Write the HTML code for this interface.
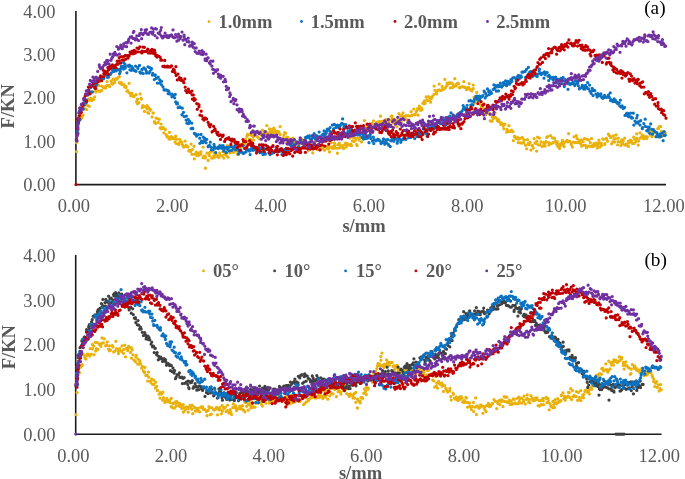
<!DOCTYPE html>
<html><head><meta charset="utf-8"><style>
html,body{margin:0;padding:0;background:#fff;}
body{width:685px;height:479px;overflow:hidden;}
svg{display:block;}
text{filter:grayscale(1);}
.t{font-family:"Liberation Serif",serif;font-size:18.5px;fill:#595959;}
.b{font-family:"Liberation Serif",serif;font-size:18.5px;font-weight:bold;fill:#595959;}
.k{font-family:"Liberation Serif",serif;font-size:19.3px;fill:#000;}
.d path{fill:none;stroke-width:3.25;stroke-linecap:round;}
</style></head><body>
<svg width="685" height="479" viewBox="0 0 685 479">
<rect width="685" height="479" fill="#fff"/>
<g class="t">
<text x="55.6" y="191.0" text-anchor="end">0.00</text>
<text x="55.6" y="147.7" text-anchor="end">1.00</text>
<text x="55.6" y="104.3" text-anchor="end">2.00</text>
<text x="55.6" y="61.0" text-anchor="end">3.00</text>
<text x="55.6" y="17.6" text-anchor="end">4.00</text>
<text x="73.9" y="212.3" text-anchor="middle">0.00</text>
<text x="172.2" y="212.3" text-anchor="middle">2.00</text>
<text x="270.6" y="212.3" text-anchor="middle">4.00</text>
<text x="368.9" y="212.3" text-anchor="middle">6.00</text>
<text x="467.3" y="212.3" text-anchor="middle">8.00</text>
<text x="565.6" y="212.3" text-anchor="middle">10.00</text>
<text x="663.9" y="212.3" text-anchor="middle">12.00</text>
<text x="55.6" y="440.8" text-anchor="end">0.00</text>
<text x="55.6" y="396.1" text-anchor="end">1.00</text>
<text x="55.6" y="351.4" text-anchor="end">2.00</text>
<text x="55.6" y="306.7" text-anchor="end">3.00</text>
<text x="55.6" y="262.0" text-anchor="end">4.00</text>
<text x="73.4" y="462.0" text-anchor="middle">0.00</text>
<text x="171.0" y="462.0" text-anchor="middle">2.00</text>
<text x="268.7" y="462.0" text-anchor="middle">4.00</text>
<text x="366.3" y="462.0" text-anchor="middle">6.00</text>
<text x="464.0" y="462.0" text-anchor="middle">8.00</text>
<text x="561.6" y="462.0" text-anchor="middle">10.00</text>
<text x="659.2" y="462.0" text-anchor="middle">12.00</text>
</g>
<g class="b">
<text x="364" y="232.2" text-anchor="middle">s/mm</text>
<text x="360.5" y="479.2" text-anchor="middle">s/mm</text>
<text transform="translate(14.3,106.3) rotate(-90)" text-anchor="middle">F/KN</text>
<text transform="translate(15.2,347.2) rotate(-90)" text-anchor="middle">F/KN</text>
<text x="218.4" y="28.4">1.0mm</text>
<text x="310.7" y="28.4">1.5mm</text>
<text x="403.9" y="28.4">2.0mm</text>
<text x="496.2" y="28.4">2.5mm</text>
<text x="212.9" y="277.2">05°</text>
<text x="284.6" y="277.2">10°</text>
<text x="355.9" y="277.2">15°</text>
<text x="426" y="277.2">20°</text>
<text x="496.5" y="277.2">25°</text>
</g>
<g class="k">
<text x="644.2" y="13.6">(a)</text>
<text x="644.4" y="265.6">(b)</text>
</g>
<g fill="none" stroke="#1c1c1c" stroke-width="1.6">
<path d="M75.9 11V184.6H666"/>
<path d="M75.7 255V434.2H661.6"/>
</g>
<g>
<circle cx="209" cy="21.7" r="1.4" fill="#EBB10B"/>
<circle cx="301.5" cy="21.5" r="1.4" fill="#0A72C1"/>
<circle cx="395" cy="21.5" r="1.4" fill="#C00000"/>
<circle cx="487.5" cy="21.5" r="1.4" fill="#7030A0"/>
<circle cx="203.5" cy="270.9" r="1.4" fill="#EBB10B"/>
<circle cx="274.6" cy="270.9" r="1.4" fill="#404040"/>
<circle cx="345.6" cy="270.9" r="1.4" fill="#0A72C1"/>
<circle cx="415.9" cy="270.9" r="1.4" fill="#C00000"/>
<circle cx="486.7" cy="270.9" r="1.4" fill="#7030A0"/>
</g>
<g class="d">
<path d="M76.4 142.5h0M76.7 138.2h0M76.7 135.9h0M77.7 134.7h0M77.9 131.1h0M78.0 128.0h0M77.5 127.9h0M78.7 124.7h0M78.3 116.4h0M79.0 118.4h0M79.8 118.1h0M80.7 114.2h0M81.4 115.7h0M81.9 118.1h0M83.1 115.3h0M83.5 108.3h0M84.4 108.9h0M85.5 108.9h0M85.9 104.3h0M86.7 109.5h0M87.4 105.3h0M88.6 99.1h0M89.3 106.3h0M89.4 100.6h0M90.9 98.0h0M91.9 99.1h0M92.0 100.5h0M93.5 99.7h0M94.6 96.9h0M94.9 91.1h0M95.9 92.1h0M96.3 89.3h0M97.0 90.5h0M98.6 85.4h0M98.4 91.1h0M100.2 91.4h0M99.8 81.6h0M101.4 86.1h0M101.7 90.4h0M103.3 87.3h0M103.8 87.5h0M105.1 87.4h0M105.5 86.6h0M105.6 88.1h0M107.2 85.4h0M107.0 81.5h0M108.8 77.5h0M109.2 85.3h0M109.6 86.5h0M111.1 81.0h0M111.8 83.0h0M112.5 84.1h0M113.1 79.2h0M114.5 80.2h0M114.6 82.6h0M116.2 78.5h0M116.0 79.3h0M117.2 79.0h0M118.6 77.1h0M119.3 76.7h0M119.4 82.7h0M120.9 83.9h0M121.4 82.6h0M122.2 84.6h0M122.8 84.6h0M123.9 84.7h0M124.8 87.2h0M126.0 87.4h0M126.0 86.4h0M126.9 91.2h0M127.6 90.7h0M129.1 83.3h0M128.9 92.5h0M130.2 93.6h0M130.7 95.8h0M131.8 93.1h0M133.4 96.4h0M133.1 95.8h0M134.0 96.6h0M133.9 96.0h0M136.1 94.7h0M136.5 101.6h0M137.6 103.8h0M137.5 99.2h0M138.8 102.7h0M140.1 93.9h0M140.9 98.3h0M141.5 99.0h0M142.2 107.7h0M142.8 105.7h0M144.0 106.4h0M144.5 111.4h0M145.7 107.0h0M147.1 105.5h0M147.2 108.9h0M147.7 112.6h0M148.6 113.3h0M148.8 107.9h0M150.3 110.3h0M150.5 109.7h0M152.1 116.9h0M153.0 112.8h0M153.3 113.0h0M154.4 121.7h0M154.6 122.4h0M156.0 118.1h0M155.8 123.5h0M157.3 118.5h0M158.2 122.3h0M159.4 119.3h0M160.1 127.8h0M161.0 124.1h0M161.0 128.8h0M162.1 127.5h0M163.4 127.5h0M162.9 128.3h0M163.9 132.8h0M165.4 129.6h0M166.1 134.6h0M166.9 136.8h0M167.7 136.6h0M169.0 138.9h0M169.1 137.4h0M169.4 132.3h0M170.2 139.2h0M171.3 136.7h0M172.4 137.3h0M173.1 138.7h0M174.7 138.7h0M175.1 142.1h0M175.6 136.1h0M176.3 143.5h0M176.7 139.2h0M178.5 143.9h0M178.9 144.5h0M179.8 139.4h0M180.0 141.5h0M181.6 142.2h0M181.8 142.2h0M182.4 144.7h0M183.3 146.6h0M183.7 147.1h0M185.1 141.0h0M186.4 146.4h0M186.1 145.2h0M187.8 146.9h0M188.8 150.9h0M189.5 150.1h0M190.6 151.6h0M191.1 144.1h0M192.0 154.4h0M192.4 149.6h0M194.0 146.3h0M194.3 158.8h0M194.6 154.1h0M196.4 152.1h0M196.7 155.4h0M197.0 152.8h0M198.2 155.7h0M198.9 153.0h0M199.3 152.8h0M200.8 154.3h0M201.0 151.8h0M203.0 157.7h0M203.1 147.0h0M203.9 156.1h0M205.1 156.0h0M205.3 156.4h0M205.4 158.0h0M207.0 153.0h0M208.2 160.4h0M208.0 153.2h0M209.4 155.7h0M210.0 152.3h0M211.6 158.1h0M211.3 151.2h0M213.1 157.9h0M213.9 157.4h0M213.8 155.8h0M214.1 152.8h0M215.7 156.5h0M216.2 154.7h0M217.5 156.2h0M218.3 155.8h0M218.8 157.6h0M219.7 152.9h0M220.3 155.4h0M221.3 155.8h0M222.1 155.8h0M222.9 151.6h0M223.8 158.1h0M224.7 154.3h0M225.5 151.7h0M225.4 154.3h0M226.6 155.8h0M227.3 145.5h0M228.1 157.2h0M229.2 148.1h0M229.8 152.9h0M231.1 151.3h0M232.2 152.3h0M232.5 151.5h0M233.9 152.1h0M234.5 145.6h0M234.8 150.4h0M235.6 150.9h0M236.7 149.9h0M237.2 154.1h0M238.5 145.5h0M238.9 153.1h0M239.6 147.6h0M240.8 144.6h0M240.9 144.6h0M242.2 146.8h0M243.2 143.1h0M244.0 144.2h0M244.6 142.3h0M245.2 143.6h0M245.7 139.3h0M246.9 136.4h0M247.5 134.4h0M248.3 141.4h0M249.5 139.1h0M250.0 134.8h0M251.5 139.9h0M252.1 135.5h0M252.4 132.4h0M253.6 140.0h0M253.4 136.8h0M255.1 131.5h0M255.1 133.3h0M256.3 132.0h0M257.3 136.6h0M258.3 137.7h0M259.4 138.8h0M259.2 133.7h0M260.1 131.9h0M261.3 134.8h0M262.3 130.0h0M262.5 134.4h0M263.6 133.4h0M264.5 131.9h0M265.5 135.0h0M266.1 131.8h0M266.8 125.6h0M267.4 133.3h0M268.0 133.6h0M269.4 128.8h0M270.0 131.6h0M271.1 134.1h0M271.7 129.7h0M272.4 131.9h0M273.6 132.8h0M273.8 128.0h0M274.8 129.8h0M275.3 131.8h0M276.3 132.6h0M277.5 131.3h0M278.9 131.9h0M279.3 133.5h0M280.1 126.6h0M280.2 134.6h0M281.5 141.0h0M282.2 138.4h0M283.2 137.8h0M283.9 135.0h0M284.7 132.7h0M285.7 133.2h0M286.2 142.8h0M286.8 137.2h0M288.1 137.7h0M288.2 138.8h0M289.5 140.6h0M289.8 144.1h0M291.5 139.5h0M291.8 138.6h0M293.0 138.2h0M293.5 139.2h0M293.9 142.9h0M295.4 141.1h0M295.5 143.8h0M296.5 142.6h0M297.8 145.3h0M297.9 148.9h0M298.9 144.9h0M299.5 142.8h0M299.9 148.4h0M301.8 140.0h0M301.6 139.1h0M303.3 142.8h0M303.7 143.5h0M304.5 141.6h0M305.3 140.9h0M306.1 146.3h0M307.1 145.0h0M307.4 146.4h0M308.3 150.6h0M309.6 145.9h0M309.9 144.3h0M310.6 145.4h0M311.8 148.1h0M312.7 152.8h0M313.1 146.9h0M315.1 141.5h0M314.7 147.6h0M315.8 148.4h0M316.4 148.4h0M317.3 149.7h0M317.4 145.0h0M318.9 144.6h0M319.3 149.5h0M320.3 149.6h0M321.6 148.7h0M322.3 147.6h0M322.4 147.9h0M323.9 146.4h0M324.5 150.2h0M325.0 149.9h0M326.8 146.4h0M327.0 147.5h0M328.2 148.8h0M328.8 145.9h0M329.3 147.8h0M329.5 151.9h0M331.2 142.6h0M332.0 147.2h0M332.7 148.5h0M332.8 146.7h0M334.6 145.6h0M334.5 143.2h0M335.3 148.0h0M337.1 148.1h0M337.4 153.2h0M337.9 144.7h0M339.1 148.1h0M339.3 143.0h0M340.6 146.9h0M340.8 145.5h0M341.9 147.3h0M342.9 145.5h0M343.6 148.6h0M345.0 144.3h0M345.6 143.0h0M346.1 147.1h0M347.4 143.6h0M347.7 145.1h0M348.0 144.3h0M349.1 145.1h0M349.7 138.0h0M350.9 144.2h0M351.5 145.7h0M352.4 140.9h0M353.5 137.6h0M353.9 141.5h0M355.2 140.4h0M355.8 138.3h0M356.6 144.3h0M357.1 145.6h0M357.9 138.0h0M359.0 140.1h0M359.3 130.1h0M360.7 137.6h0M361.5 141.9h0M362.2 134.1h0M363.2 133.4h0M364.3 127.8h0M364.4 120.5h0M365.6 128.6h0M366.4 135.2h0M366.9 127.4h0M367.5 124.9h0M368.3 128.5h0M369.3 126.1h0M370.0 127.9h0M371.1 124.3h0M371.9 123.7h0M372.1 128.0h0M373.5 120.8h0M374.5 124.4h0M374.4 127.9h0M375.8 125.6h0M376.6 122.5h0M376.8 125.6h0M378.1 121.8h0M379.0 122.8h0M379.9 121.4h0M380.5 116.2h0M381.2 124.2h0M382.6 121.1h0M382.9 126.6h0M383.6 124.0h0M385.1 121.9h0M385.7 119.6h0M386.2 121.3h0M386.9 124.6h0M388.5 119.3h0M388.3 122.5h0M388.9 122.4h0M390.3 120.0h0M391.1 116.2h0M392.0 116.1h0M392.3 118.8h0M393.2 122.8h0M394.1 119.0h0M395.1 124.6h0M395.7 120.9h0M396.9 120.5h0M396.9 126.8h0M398.9 113.7h0M398.9 120.5h0M400.0 121.1h0M400.4 116.0h0M401.3 121.9h0M401.7 115.7h0M402.9 112.9h0M403.6 117.1h0M404.7 116.1h0M405.0 116.8h0M406.1 115.7h0M406.9 119.5h0M408.1 122.0h0M408.2 115.5h0M408.4 121.9h0M409.8 116.0h0M411.1 111.7h0M411.9 115.2h0M411.9 115.7h0M413.7 109.0h0M414.4 114.5h0M415.1 114.5h0M416.2 111.9h0M416.8 110.6h0M417.6 108.7h0M418.1 115.2h0M419.1 108.9h0M419.3 106.2h0M420.6 110.3h0M421.4 108.2h0M422.1 109.6h0M422.8 103.1h0M424.0 103.8h0M424.4 100.9h0M425.2 103.3h0M426.2 96.9h0M427.0 99.9h0M427.3 100.6h0M428.4 96.6h0M429.6 100.7h0M429.9 97.5h0M430.6 102.2h0M431.5 98.3h0M432.3 96.5h0M434.1 86.1h0M433.9 94.3h0M434.9 90.3h0M436.5 91.8h0M435.9 93.5h0M436.7 93.8h0M437.9 90.4h0M439.3 89.8h0M439.2 84.1h0M440.9 90.7h0M441.0 90.6h0M442.3 89.6h0M442.1 86.4h0M444.0 89.0h0M444.8 79.4h0M445.4 87.6h0M447.0 83.1h0M446.8 85.7h0M448.0 84.0h0M448.9 82.8h0M449.4 83.4h0M450.2 82.8h0M450.3 87.9h0M451.8 83.0h0M452.6 87.5h0M453.0 84.4h0M454.3 86.3h0M454.8 78.7h0M456.1 85.9h0M456.5 84.2h0M457.4 83.9h0M457.7 83.2h0M458.7 83.7h0M459.3 87.5h0M460.0 87.7h0M460.9 87.0h0M462.6 86.7h0M462.6 86.5h0M463.8 81.5h0M464.3 87.3h0M465.1 87.3h0M466.4 89.5h0M467.2 89.3h0M467.6 87.9h0M468.4 87.4h0M469.2 83.6h0M470.0 89.0h0M470.6 90.1h0M471.9 90.9h0M473.2 85.1h0M473.2 88.7h0M474.4 103.1h0M474.0 97.2h0M475.9 97.0h0M476.7 92.4h0M477.6 101.0h0M478.1 99.2h0M479.1 100.6h0M479.8 101.5h0M479.7 104.0h0M481.4 107.3h0M481.8 106.0h0M483.1 107.6h0M484.1 114.0h0M484.2 103.8h0M485.6 114.9h0M486.4 113.8h0M486.7 110.5h0M488.0 110.9h0M487.9 111.6h0M490.2 120.8h0M489.9 113.8h0M491.0 114.3h0M492.2 116.8h0M492.1 121.3h0M493.1 118.7h0M494.1 117.6h0M495.0 117.0h0M495.1 113.1h0M496.1 117.8h0M497.3 120.7h0M498.3 121.4h0M498.6 119.6h0M499.0 121.7h0M500.7 124.3h0M501.3 122.8h0M502.4 123.9h0M503.2 126.1h0M503.8 128.8h0M504.3 124.6h0M505.0 124.1h0M506.6 132.2h0M506.9 129.4h0M508.1 130.9h0M508.9 125.7h0M509.1 131.5h0M510.6 131.3h0M510.6 130.8h0M511.5 130.2h0M513.0 131.7h0M513.3 140.7h0M514.5 136.1h0M514.7 137.1h0M516.3 138.4h0M516.9 137.6h0M517.5 137.4h0M518.2 142.5h0M518.4 139.2h0M519.8 138.4h0M520.4 142.9h0M522.0 143.1h0M522.2 137.3h0M523.6 142.6h0M523.7 139.6h0M524.5 140.1h0M525.3 145.1h0M526.1 145.0h0M526.6 148.8h0M527.5 139.7h0M528.4 143.1h0M528.9 144.6h0M530.2 142.4h0M530.9 150.1h0M531.9 145.6h0M532.5 145.6h0M533.3 148.0h0M534.1 138.7h0M534.9 142.9h0M535.9 143.4h0M536.6 151.1h0M536.9 141.2h0M537.6 137.2h0M538.2 144.8h0M539.5 138.0h0M540.0 144.9h0M541.0 141.9h0M542.2 146.6h0M543.6 145.4h0M543.8 142.7h0M545.1 146.1h0M545.2 143.0h0M546.2 141.6h0M546.7 137.4h0M547.5 136.7h0M548.9 142.6h0M548.9 145.0h0M550.4 135.5h0M551.5 143.5h0M552.4 137.8h0M552.7 142.8h0M553.4 142.4h0M554.5 138.0h0M554.5 138.6h0M555.5 141.3h0M556.6 144.2h0M557.3 141.7h0M557.9 146.6h0M559.2 144.3h0M559.6 148.5h0M560.3 145.8h0M561.7 143.0h0M562.4 140.4h0M563.3 143.9h0M563.1 145.0h0M564.2 146.5h0M565.1 142.0h0M566.2 141.3h0M567.0 140.4h0M567.9 141.8h0M568.6 133.5h0M569.7 141.3h0M569.5 141.2h0M571.1 143.7h0M571.3 144.8h0M572.4 147.1h0M573.2 142.0h0M574.0 136.8h0M575.3 142.7h0M576.2 142.6h0M576.3 135.5h0M577.1 138.6h0M577.8 142.5h0M579.0 140.3h0M579.8 140.9h0M580.6 143.7h0M581.6 139.8h0M581.6 146.2h0M582.9 145.4h0M583.1 141.5h0M584.5 138.5h0M585.1 145.0h0M586.5 147.7h0M586.6 139.2h0M587.9 146.2h0M588.6 139.9h0M589.6 146.1h0M590.3 142.5h0M591.0 146.3h0M591.5 138.7h0M592.6 145.4h0M593.3 146.6h0M593.9 143.7h0M594.8 145.5h0M596.3 143.1h0M597.2 148.1h0M597.6 145.2h0M598.7 142.9h0M598.9 140.2h0M599.9 147.0h0M600.7 144.1h0M601.2 143.1h0M601.6 145.4h0M602.8 138.8h0M603.4 139.3h0M604.8 144.4h0M604.8 143.7h0M606.4 139.1h0M606.4 138.3h0M607.5 141.2h0M608.4 134.2h0M609.4 135.5h0M610.4 136.4h0M610.7 137.5h0M611.5 143.8h0M612.8 141.9h0M613.4 135.8h0M613.9 138.8h0M614.6 142.1h0M615.4 138.7h0M616.1 134.9h0M617.5 144.8h0M618.2 138.2h0M618.0 141.6h0M620.1 142.0h0M620.8 145.5h0M621.7 139.9h0M622.5 143.5h0M622.4 140.1h0M623.2 140.9h0M624.7 138.1h0M624.6 144.9h0M626.2 145.2h0M626.4 143.9h0M628.4 146.4h0M628.4 141.1h0M629.2 142.9h0M630.5 140.0h0M630.4 141.6h0M631.5 140.9h0M632.6 143.5h0M633.7 137.2h0M634.2 143.3h0M634.7 139.3h0M636.1 141.5h0M636.7 133.9h0M636.9 138.4h0M638.2 145.1h0M638.6 140.9h0M640.0 132.8h0M640.2 138.1h0M641.1 137.1h0M642.3 135.1h0M643.1 135.5h0M643.5 138.7h0M644.3 137.6h0M645.9 136.5h0M646.0 138.1h0M646.8 138.6h0M647.3 136.8h0M648.3 132.1h0M649.9 131.4h0M650.7 135.3h0M651.4 130.1h0M652.1 136.7h0M652.5 131.8h0M654.2 132.4h0M654.0 129.9h0M655.1 132.6h0M655.8 136.6h0M656.4 133.0h0M657.8 128.7h0M658.5 137.0h0M658.4 128.6h0M659.3 126.5h0M660.7 126.6h0M661.5 136.2h0M661.5 131.3h0M662.2 134.6h0M663.4 131.8h0M664.5 134.3h0M665.2 132.9h0M76.5 151.6h0M205.4 168.2h0" stroke="#EBB10B"/>
<path d="M76.3 140.3h0M76.4 138.5h0M76.4 134.7h0M78.0 133.3h0M77.1 130.9h0M77.5 123.4h0M77.8 127.2h0M78.6 122.8h0M78.6 118.1h0M79.8 119.3h0M79.4 111.3h0M80.0 119.8h0M80.9 111.3h0M82.2 109.0h0M82.8 103.7h0M83.3 109.1h0M84.2 105.2h0M84.7 101.0h0M86.2 102.7h0M86.5 100.0h0M87.8 95.1h0M88.7 93.1h0M89.0 93.8h0M89.2 92.2h0M90.5 87.5h0M91.6 91.9h0M92.4 92.1h0M92.9 84.6h0M94.6 88.0h0M95.2 84.1h0M96.0 85.9h0M96.7 84.6h0M97.7 82.1h0M97.8 79.2h0M99.3 80.3h0M99.3 79.0h0M100.3 77.5h0M101.2 78.4h0M101.9 76.9h0M102.9 77.5h0M103.7 78.6h0M104.6 71.9h0M105.1 74.8h0M106.4 72.2h0M106.6 74.8h0M107.6 77.4h0M108.3 76.7h0M108.8 69.2h0M110.5 74.3h0M111.1 73.0h0M111.9 69.1h0M112.8 70.4h0M113.6 71.5h0M113.4 67.7h0M115.3 70.3h0M115.6 70.9h0M116.4 68.6h0M117.3 70.0h0M118.6 69.5h0M119.6 73.5h0M120.3 71.4h0M120.5 68.9h0M121.3 66.4h0M122.1 66.4h0M123.5 69.0h0M123.5 62.6h0M124.5 66.0h0M124.9 64.0h0M125.3 68.0h0M126.9 72.8h0M127.7 65.8h0M129.0 66.4h0M129.4 65.1h0M129.9 69.8h0M131.3 70.4h0M131.6 66.4h0M132.2 68.9h0M132.8 68.2h0M134.5 70.7h0M134.6 70.3h0M135.5 66.1h0M136.0 71.3h0M137.9 67.3h0M137.8 68.4h0M139.8 72.1h0M139.5 65.4h0M140.3 73.1h0M142.0 69.7h0M141.9 69.3h0M142.2 73.0h0M143.3 73.5h0M143.9 67.8h0M145.4 69.2h0M146.4 71.3h0M146.5 73.0h0M148.0 66.8h0M149.1 73.1h0M149.6 67.5h0M149.8 71.6h0M151.3 69.3h0M151.4 68.4h0M152.4 75.0h0M152.7 73.3h0M154.3 79.5h0M155.1 75.6h0M155.3 74.8h0M156.3 78.4h0M157.3 83.1h0M158.2 77.1h0M159.4 83.1h0M159.7 79.8h0M159.8 79.9h0M161.6 81.3h0M161.6 84.8h0M163.0 86.8h0M163.9 89.8h0M164.2 89.7h0M165.0 90.0h0M166.2 89.9h0M167.2 90.3h0M168.1 93.5h0M168.5 90.9h0M169.0 91.9h0M170.0 94.1h0M171.9 96.8h0M172.0 94.1h0M172.3 96.4h0M173.4 95.6h0M174.7 97.8h0M175.3 94.3h0M175.7 101.9h0M176.6 103.8h0M177.4 103.9h0M177.4 102.9h0M178.1 107.6h0M179.8 106.9h0M180.2 107.4h0M181.9 114.6h0M182.1 114.9h0M182.3 108.2h0M183.5 112.3h0M184.3 116.5h0M186.4 116.0h0M186.1 120.0h0M186.9 123.2h0M188.3 119.4h0M188.6 123.5h0M189.4 121.9h0M189.5 121.3h0M191.1 128.6h0M191.7 123.2h0M192.4 128.1h0M192.8 128.7h0M194.3 133.3h0M194.9 134.1h0M195.5 133.9h0M196.5 136.0h0M197.3 135.0h0M198.1 134.6h0M199.7 138.2h0M199.9 143.3h0M201.0 134.4h0M201.5 141.0h0M202.8 142.7h0M203.2 137.0h0M203.4 141.2h0M204.7 138.4h0M205.2 140.5h0M206.1 142.8h0M206.8 139.3h0M208.1 146.8h0M208.5 145.8h0M209.5 145.4h0M210.3 142.2h0M211.1 147.0h0M211.4 149.8h0M213.2 149.8h0M214.0 147.5h0M214.0 144.4h0M214.6 146.5h0M215.7 148.2h0M215.8 152.6h0M218.1 147.0h0M218.3 148.5h0M219.0 147.0h0M219.7 145.6h0M220.6 147.8h0M221.4 145.9h0M222.1 148.3h0M223.1 145.7h0M223.8 150.9h0M224.7 147.7h0M225.1 148.2h0M226.4 152.7h0M226.8 147.4h0M227.8 149.6h0M228.2 147.3h0M229.3 150.9h0M229.7 146.8h0M231.1 146.3h0M231.7 150.3h0M232.5 147.0h0M233.3 148.7h0M234.2 147.5h0M235.3 145.5h0M235.6 149.8h0M236.8 148.3h0M237.5 148.4h0M238.4 154.2h0M238.8 151.0h0M239.4 152.4h0M240.9 150.1h0M240.9 151.0h0M242.5 152.7h0M243.2 145.5h0M243.5 153.6h0M244.1 152.9h0M246.0 151.9h0M246.5 149.2h0M246.5 149.7h0M247.6 149.9h0M248.7 149.6h0M249.4 151.0h0M250.1 154.5h0M251.1 150.1h0M251.6 148.3h0M253.0 150.3h0M252.9 148.5h0M254.1 148.8h0M255.3 147.0h0M255.9 150.3h0M256.1 150.0h0M257.3 151.2h0M257.9 150.7h0M258.3 147.3h0M260.0 152.7h0M260.5 148.7h0M261.7 145.1h0M261.8 152.2h0M263.1 148.1h0M263.0 154.5h0M264.6 148.8h0M265.3 153.5h0M265.2 154.2h0M267.2 146.4h0M268.0 147.3h0M268.9 152.9h0M270.1 150.4h0M270.1 154.6h0M270.7 150.3h0M271.6 151.9h0M272.1 153.3h0M273.5 152.3h0M274.7 151.3h0M275.4 150.7h0M276.0 147.2h0M276.6 151.6h0M277.1 150.4h0M278.0 150.1h0M278.1 150.3h0M279.5 150.4h0M280.1 151.2h0M281.6 150.8h0M281.9 154.6h0M283.2 153.3h0M284.1 149.9h0M284.5 153.0h0M285.1 149.4h0M286.2 150.1h0M286.8 151.0h0M287.6 149.8h0M288.9 149.0h0M289.6 143.8h0M289.6 144.6h0M291.1 149.4h0M291.3 145.9h0M292.2 142.9h0M293.2 146.1h0M294.2 147.0h0M294.6 146.0h0M296.0 143.6h0M296.7 141.8h0M296.9 142.0h0M297.9 149.9h0M298.7 146.6h0M299.8 142.9h0M300.8 139.9h0M301.6 142.7h0M301.6 143.0h0M303.1 142.5h0M304.3 140.1h0M304.7 142.8h0M305.0 143.7h0M305.6 137.3h0M307.1 137.6h0M307.7 136.0h0M308.5 137.1h0M309.4 135.9h0M310.3 138.9h0M310.9 139.1h0M311.7 135.8h0M311.6 139.0h0M313.0 137.6h0M314.2 133.5h0M314.6 136.8h0M315.3 138.9h0M316.5 135.7h0M317.0 139.5h0M317.9 138.6h0M319.1 132.1h0M319.3 136.5h0M320.6 138.1h0M321.6 138.4h0M322.0 135.0h0M323.2 134.1h0M324.1 130.8h0M324.7 133.9h0M324.6 136.3h0M326.2 133.3h0M326.5 131.5h0M328.2 129.9h0M327.3 129.1h0M328.9 130.2h0M330.0 127.5h0M330.6 131.7h0M331.2 133.3h0M332.3 125.1h0M333.6 128.8h0M333.7 128.8h0M334.3 124.4h0M336.1 125.8h0M336.0 127.5h0M337.6 126.0h0M337.5 125.0h0M339.0 127.7h0M340.3 125.1h0M340.3 125.6h0M341.7 123.3h0M342.6 118.9h0M343.2 124.1h0M343.9 127.7h0M344.1 126.0h0M345.4 128.0h0M345.8 124.6h0M346.2 134.0h0M347.6 127.8h0M348.0 131.4h0M349.1 133.3h0M350.4 130.4h0M351.2 128.2h0M351.6 129.9h0M352.1 131.8h0M353.2 135.7h0M352.9 130.8h0M354.6 131.7h0M355.8 134.2h0M356.5 132.4h0M357.5 134.8h0M357.5 133.6h0M358.4 131.6h0M359.8 135.0h0M360.5 133.0h0M361.2 133.2h0M362.2 137.4h0M363.5 139.1h0M363.4 135.0h0M364.2 137.2h0M366.0 138.4h0M365.3 133.7h0M366.4 138.4h0M367.7 138.1h0M369.1 135.5h0M369.0 142.7h0M370.2 136.1h0M370.2 134.4h0M370.8 138.5h0M372.5 141.0h0M373.3 137.0h0M373.8 143.6h0M374.3 139.5h0M375.7 140.8h0M376.4 140.7h0M377.6 139.3h0M377.9 139.4h0M378.6 139.5h0M379.6 140.7h0M381.0 143.6h0M381.1 142.0h0M382.2 142.6h0M382.9 141.4h0M383.5 138.9h0M384.8 144.2h0M385.5 142.1h0M386.2 139.9h0M386.3 142.7h0M387.8 139.6h0M388.2 144.1h0M388.7 145.2h0M390.3 146.6h0M390.6 140.5h0M391.5 140.8h0M392.4 138.4h0M393.7 138.1h0M393.9 141.2h0M394.7 138.5h0M395.8 138.5h0M396.1 138.9h0M397.2 143.2h0M397.7 141.1h0M398.6 137.5h0M399.6 138.9h0M400.8 142.3h0M401.1 141.0h0M402.4 139.5h0M402.6 139.5h0M403.7 138.0h0M404.4 138.5h0M405.7 139.5h0M406.0 139.0h0M407.4 134.0h0M408.2 132.9h0M408.7 137.5h0M409.8 136.5h0M409.9 133.7h0M410.5 137.4h0M411.6 133.5h0M412.7 133.3h0M413.1 133.9h0M414.7 138.5h0M414.8 130.7h0M415.8 134.7h0M416.6 135.7h0M417.2 136.4h0M418.4 134.5h0M418.8 132.5h0M419.9 130.8h0M420.4 131.5h0M420.8 134.7h0M422.1 133.0h0M423.2 128.9h0M423.7 132.9h0M424.8 129.1h0M425.6 132.0h0M426.6 133.9h0M427.1 136.0h0M427.7 129.2h0M428.4 127.5h0M429.3 124.8h0M430.1 130.1h0M431.2 127.7h0M432.2 126.5h0M432.5 123.0h0M433.0 125.3h0M434.6 128.1h0M434.5 127.6h0M435.9 125.2h0M436.5 124.6h0M437.1 120.5h0M438.1 127.4h0M439.4 123.1h0M439.4 122.8h0M440.8 123.7h0M441.1 123.3h0M442.0 123.2h0M442.8 117.9h0M443.7 122.9h0M444.1 120.4h0M445.6 119.3h0M445.9 124.7h0M447.2 121.9h0M447.4 122.9h0M447.9 117.3h0M449.6 121.4h0M449.8 116.2h0M451.0 112.8h0M451.9 118.5h0M452.3 118.0h0M453.6 117.0h0M454.3 119.6h0M454.7 116.1h0M455.5 117.9h0M456.4 116.1h0M457.3 114.7h0M458.7 113.7h0M459.4 115.5h0M460.1 112.5h0M460.8 114.1h0M461.1 112.3h0M462.1 110.9h0M463.3 108.6h0M463.1 105.5h0M464.3 107.4h0M465.3 109.7h0M466.7 108.4h0M467.1 105.3h0M467.9 109.6h0M469.0 100.9h0M469.6 108.8h0M470.4 100.7h0M470.8 105.0h0M471.8 101.0h0M472.2 104.6h0M472.9 105.0h0M474.1 101.7h0M474.5 99.0h0M475.9 96.4h0M477.2 96.1h0M476.9 99.1h0M478.3 100.3h0M478.8 97.6h0M479.6 96.2h0M479.6 99.4h0M481.4 97.0h0M481.9 96.7h0M482.9 95.5h0M484.1 91.0h0M484.6 92.2h0M485.2 97.9h0M485.7 93.6h0M486.7 95.7h0M487.4 88.9h0M488.7 91.7h0M489.2 94.7h0M489.8 90.8h0M490.9 92.2h0M491.5 93.3h0M493.3 89.4h0M493.9 84.9h0M494.6 88.7h0M494.9 88.2h0M495.5 85.5h0M496.4 91.2h0M497.7 86.8h0M497.9 85.4h0M498.5 90.9h0M499.9 86.4h0M500.3 83.2h0M501.7 87.0h0M501.8 87.0h0M502.5 85.7h0M503.4 82.7h0M504.7 84.3h0M505.6 80.8h0M506.6 85.7h0M506.9 83.2h0M507.4 81.3h0M508.1 81.5h0M509.4 84.2h0M510.4 82.5h0M510.8 79.7h0M511.6 80.4h0M511.9 81.3h0M512.8 77.9h0M514.1 77.6h0M515.5 78.2h0M516.2 80.9h0M516.3 78.7h0M517.7 76.5h0M518.1 75.5h0M518.9 75.5h0M519.7 78.3h0M521.0 75.8h0M521.4 77.1h0M522.0 72.2h0M523.3 72.1h0M524.0 71.8h0M525.1 71.4h0M525.6 77.4h0M525.8 77.2h0M526.6 69.3h0M527.9 75.1h0M528.4 67.3h0M529.3 72.5h0M530.0 72.4h0M530.3 71.7h0M532.3 76.7h0M532.4 71.3h0M533.4 75.5h0M534.3 70.1h0M535.0 73.2h0M536.2 75.8h0M536.7 75.8h0M537.2 76.6h0M538.0 74.0h0M539.2 70.9h0M539.5 69.0h0M540.6 73.2h0M541.2 74.6h0M541.4 73.6h0M542.9 73.2h0M544.0 78.2h0M544.4 71.9h0M545.1 74.6h0M546.3 72.6h0M547.2 72.5h0M548.0 76.2h0M548.7 80.6h0M549.2 75.3h0M550.3 78.1h0M550.5 77.0h0M551.5 78.2h0M553.0 77.3h0M553.3 78.0h0M553.1 79.9h0M555.1 78.9h0M555.6 77.2h0M556.4 82.3h0M557.3 83.1h0M557.2 79.2h0M559.0 80.7h0M559.1 79.5h0M560.9 78.4h0M561.0 79.1h0M561.9 83.6h0M563.1 77.4h0M564.2 81.0h0M564.3 86.5h0M565.3 79.6h0M565.9 80.9h0M566.6 81.8h0M568.0 83.5h0M568.0 89.3h0M569.0 82.9h0M570.1 84.5h0M570.8 83.8h0M572.4 83.0h0M572.1 83.7h0M573.0 82.2h0M574.2 84.1h0M574.8 85.6h0M575.6 80.7h0M576.8 83.3h0M577.7 82.9h0M578.3 85.6h0M578.0 81.6h0M579.3 88.9h0M579.9 88.1h0M581.7 87.5h0M582.3 85.4h0M582.9 87.5h0M583.8 89.0h0M584.4 86.0h0M585.1 89.0h0M585.5 85.3h0M586.8 87.4h0M587.6 82.6h0M588.4 88.8h0M589.6 85.0h0M590.0 91.2h0M591.1 93.3h0M592.1 88.3h0M592.7 90.5h0M593.0 95.5h0M593.9 90.2h0M594.8 90.7h0M596.0 94.2h0M597.0 94.8h0M597.1 96.9h0M597.9 93.7h0M598.8 95.4h0M600.1 94.4h0M600.6 96.1h0M600.9 93.9h0M602.0 97.8h0M603.0 98.3h0M603.7 96.4h0M604.6 95.3h0M604.8 97.3h0M605.6 97.1h0M606.6 97.3h0M607.7 97.0h0M608.4 95.1h0M609.3 97.3h0M610.2 92.9h0M610.6 100.6h0M610.9 99.5h0M612.5 100.9h0M612.8 101.5h0M614.2 98.9h0M615.2 101.4h0M615.7 100.7h0M616.7 102.4h0M617.7 103.7h0M617.9 102.6h0M619.2 103.0h0M619.8 106.0h0M620.4 100.0h0M621.3 107.1h0M622.1 105.9h0M623.3 108.5h0M623.5 107.7h0M624.6 107.4h0M625.0 115.4h0M626.5 113.7h0M627.4 113.2h0M627.1 115.3h0M628.9 114.2h0M628.6 116.7h0M630.6 113.1h0M630.9 116.8h0M631.7 118.2h0M632.5 117.9h0M633.3 113.2h0M633.8 125.1h0M635.0 121.1h0M636.1 122.8h0M636.7 117.9h0M637.3 115.3h0M638.0 122.8h0M638.2 121.8h0M640.0 125.1h0M640.2 120.9h0M640.7 120.6h0M642.3 128.7h0M642.5 127.6h0M643.8 123.6h0M645.2 119.2h0M645.3 126.4h0M646.8 130.7h0M647.7 127.1h0M648.0 130.6h0M648.7 128.6h0M649.2 127.1h0M649.7 133.3h0M650.7 123.9h0M651.8 129.3h0M652.6 134.2h0M653.3 129.5h0M653.8 130.6h0M654.8 131.6h0M656.8 132.5h0M656.2 136.7h0M657.6 134.5h0M658.3 134.9h0M659.1 136.7h0M660.0 136.9h0M660.3 133.9h0M661.1 136.4h0M662.4 133.1h0M663.1 140.7h0M664.1 131.5h0M664.5 135.7h0M665.3 135.0h0" stroke="#0A72C1"/>
<path d="M76.9 140.8h0M76.4 139.8h0M77.0 135.6h0M77.1 128.7h0M77.1 127.9h0M77.5 119.0h0M78.5 120.5h0M78.3 122.2h0M78.1 122.0h0M79.0 118.3h0M79.5 115.4h0M80.1 112.7h0M79.9 107.9h0M81.3 112.4h0M81.9 107.7h0M83.0 105.1h0M84.0 98.1h0M84.6 99.3h0M85.2 96.0h0M85.8 94.1h0M86.5 101.3h0M88.3 93.8h0M88.8 90.2h0M88.4 87.0h0M90.1 93.8h0M90.9 86.7h0M91.6 85.5h0M92.0 86.2h0M93.2 83.7h0M93.8 82.5h0M95.0 87.2h0M95.6 88.3h0M95.9 82.6h0M96.9 80.6h0M98.1 81.5h0M99.3 77.8h0M99.3 77.9h0M100.6 75.8h0M101.6 80.7h0M101.6 76.6h0M103.2 70.2h0M103.8 73.6h0M104.0 76.5h0M105.4 71.4h0M106.3 73.4h0M107.2 72.5h0M107.8 67.6h0M108.4 70.1h0M108.4 74.4h0M110.0 66.1h0M110.3 68.7h0M111.7 66.1h0M112.4 64.9h0M113.0 66.3h0M113.9 67.6h0M114.9 65.6h0M115.8 67.7h0M116.7 64.4h0M117.2 61.2h0M118.0 64.2h0M119.0 60.9h0M119.2 57.5h0M120.6 63.1h0M121.4 56.7h0M122.0 60.1h0M122.6 59.8h0M123.6 56.5h0M124.1 60.0h0M125.4 55.3h0M125.8 59.1h0M127.1 55.7h0M128.2 55.3h0M128.1 58.1h0M129.2 55.8h0M130.1 52.1h0M130.5 53.6h0M132.2 51.2h0M133.0 53.8h0M132.9 53.5h0M134.3 50.4h0M134.2 53.2h0M135.3 53.1h0M135.8 51.5h0M137.0 48.0h0M138.0 51.8h0M138.7 48.4h0M139.8 46.8h0M140.7 52.1h0M141.9 52.9h0M142.2 51.2h0M142.9 47.1h0M144.2 51.5h0M144.4 47.3h0M145.8 51.3h0M145.7 51.6h0M147.5 49.9h0M147.8 49.1h0M148.3 52.9h0M150.3 50.8h0M150.1 52.8h0M150.8 53.1h0M152.0 49.3h0M152.1 52.1h0M153.6 53.6h0M154.5 50.2h0M155.1 52.7h0M155.7 55.7h0M156.2 55.1h0M156.9 57.0h0M157.8 55.9h0M159.0 56.3h0M160.1 57.2h0M160.8 60.2h0M160.9 59.8h0M161.8 60.2h0M162.8 66.3h0M163.6 66.5h0M164.7 60.4h0M164.5 66.0h0M165.4 66.9h0M167.2 66.9h0M167.6 66.1h0M168.6 66.6h0M169.1 67.0h0M170.5 66.8h0M171.0 66.0h0M171.5 65.9h0M172.4 71.4h0M173.4 69.2h0M174.3 70.2h0M175.0 72.5h0M175.9 66.6h0M176.1 75.4h0M177.3 79.9h0M178.0 74.1h0M179.4 77.7h0M180.3 78.6h0M180.4 80.1h0M181.0 78.4h0M181.9 80.4h0M183.2 81.3h0M183.8 82.7h0M184.8 78.8h0M185.2 87.2h0M185.7 90.6h0M187.0 92.5h0M188.0 92.1h0M188.4 89.0h0M189.2 91.6h0M190.2 92.6h0M191.9 91.0h0M192.1 94.8h0M192.4 99.1h0M193.3 94.9h0M194.2 98.4h0M194.2 100.5h0M195.3 99.6h0M196.7 103.5h0M197.2 109.3h0M198.2 104.0h0M199.0 106.8h0M199.0 104.8h0M200.0 115.2h0M201.2 111.2h0M201.9 115.8h0M202.9 118.9h0M204.0 120.0h0M204.5 118.1h0M205.2 118.0h0M205.5 118.1h0M206.6 119.1h0M208.1 122.4h0M208.9 124.9h0M209.6 126.3h0M209.9 126.8h0M210.8 124.6h0M212.1 131.9h0M212.2 131.7h0M213.6 126.3h0M214.2 130.0h0M215.0 128.9h0M215.3 130.6h0M216.8 133.1h0M217.5 134.5h0M217.8 132.4h0M219.0 135.5h0M219.8 135.0h0M220.5 139.4h0M220.6 134.9h0M222.9 136.1h0M222.3 136.5h0M223.2 135.1h0M224.6 141.4h0M225.5 139.4h0M226.4 138.8h0M226.6 138.5h0M227.8 138.6h0M228.3 138.9h0M228.8 137.7h0M230.1 139.7h0M230.9 144.3h0M231.8 141.2h0M232.1 139.0h0M233.4 139.9h0M234.2 139.7h0M234.9 142.4h0M236.0 142.0h0M236.4 143.8h0M237.3 147.5h0M238.0 142.4h0M238.8 145.1h0M239.8 145.9h0M240.0 150.3h0M241.9 144.5h0M241.7 145.1h0M243.0 139.5h0M243.7 141.4h0M244.7 148.4h0M245.6 141.6h0M246.6 147.6h0M246.8 146.7h0M248.2 144.8h0M248.5 144.4h0M249.7 140.7h0M250.6 143.7h0M251.2 142.6h0M251.4 145.5h0M252.8 143.4h0M253.5 146.2h0M254.5 147.3h0M255.1 147.7h0M256.3 147.3h0M256.5 153.0h0M257.3 150.0h0M257.9 148.8h0M258.1 148.7h0M259.5 144.9h0M260.0 151.3h0M261.4 144.9h0M262.7 147.0h0M262.8 149.3h0M263.3 144.8h0M264.2 151.6h0M265.6 145.0h0M266.5 149.0h0M267.1 149.0h0M267.8 146.6h0M268.2 147.3h0M269.2 150.6h0M269.7 153.0h0M270.7 147.8h0M271.9 150.3h0M272.4 146.7h0M273.0 145.5h0M274.5 152.0h0M275.5 150.7h0M275.8 151.3h0M276.8 148.9h0M277.4 154.8h0M277.5 146.3h0M278.6 151.5h0M280.1 149.0h0M280.7 149.7h0M281.4 148.6h0M282.1 149.9h0M283.3 155.4h0M283.1 151.4h0M284.5 152.6h0M285.7 152.3h0M286.4 148.3h0M286.3 154.7h0M288.1 148.5h0M288.9 152.5h0M288.5 153.1h0M289.8 153.8h0M290.7 149.2h0M291.2 150.4h0M292.8 149.3h0M292.7 156.1h0M294.7 152.5h0M294.7 147.8h0M295.1 152.0h0M296.9 148.0h0M297.3 149.8h0M298.0 151.6h0M299.6 148.7h0M300.0 152.7h0M300.4 149.5h0M300.8 152.3h0M301.9 147.8h0M302.9 147.0h0M303.3 148.1h0M305.0 148.0h0M305.5 144.7h0M305.4 152.3h0M306.8 143.9h0M307.7 148.8h0M307.9 145.0h0M309.4 144.7h0M310.4 149.1h0M311.0 145.6h0M311.7 145.1h0M312.5 147.3h0M313.2 148.9h0M315.0 145.1h0M315.0 148.3h0M315.9 145.5h0M316.3 148.3h0M317.5 146.8h0M317.8 146.8h0M319.2 144.6h0M319.9 149.9h0M319.9 145.8h0M320.9 140.6h0M322.0 144.9h0M322.9 140.3h0M323.2 141.4h0M324.5 140.3h0M324.8 146.1h0M325.8 141.0h0M326.7 139.4h0M327.7 139.6h0M328.7 136.9h0M328.8 144.0h0M330.1 140.6h0M331.3 139.5h0M331.7 133.8h0M332.0 139.4h0M333.5 137.9h0M333.5 130.8h0M334.5 132.8h0M335.8 132.9h0M337.0 133.6h0M337.1 136.9h0M338.2 132.3h0M339.2 138.8h0M339.3 133.3h0M340.1 128.9h0M341.5 135.0h0M342.4 134.0h0M342.2 132.6h0M343.5 129.5h0M344.1 133.9h0M345.2 136.6h0M346.3 126.9h0M347.2 134.3h0M347.7 128.0h0M349.1 127.5h0M349.3 125.8h0M349.7 126.1h0M351.3 132.9h0M351.6 126.5h0M352.5 130.5h0M352.8 126.6h0M354.1 130.9h0M354.9 130.1h0M355.3 122.8h0M356.6 126.4h0M357.3 127.6h0M358.3 126.4h0M359.4 128.2h0M359.9 129.5h0M360.9 128.8h0M360.7 126.2h0M362.7 128.7h0M363.1 128.6h0M363.5 125.7h0M364.3 130.1h0M365.4 131.5h0M366.3 131.7h0M367.1 124.2h0M368.3 127.8h0M368.9 127.5h0M369.2 127.4h0M369.7 124.1h0M370.6 125.8h0M371.2 126.9h0M372.6 132.2h0M373.9 127.2h0M374.4 126.9h0M375.0 127.5h0M375.5 127.9h0M376.0 128.9h0M377.2 125.4h0M378.0 129.6h0M378.7 129.5h0M379.9 132.4h0M380.1 128.5h0M381.5 132.6h0M382.2 131.0h0M382.4 127.9h0M384.3 128.8h0M385.2 127.9h0M385.2 125.9h0M386.3 130.7h0M387.6 130.7h0M387.6 127.2h0M388.5 133.3h0M389.6 134.4h0M390.4 131.6h0M391.1 132.5h0M391.2 136.7h0M392.6 130.2h0M393.4 133.8h0M394.4 137.0h0M393.8 135.1h0M396.2 131.6h0M395.9 134.8h0M397.4 135.2h0M397.7 133.3h0M399.0 136.5h0M400.5 135.5h0M400.3 129.0h0M401.7 134.6h0M402.1 132.5h0M403.2 130.5h0M403.7 135.3h0M404.6 138.2h0M405.3 135.2h0M406.4 131.1h0M406.8 135.1h0M408.0 133.0h0M408.8 135.8h0M408.8 131.2h0M409.6 135.1h0M411.0 136.4h0M412.0 133.1h0M412.9 136.4h0M413.5 135.4h0M413.7 134.9h0M414.5 130.9h0M415.6 134.1h0M416.5 132.7h0M417.0 133.8h0M417.8 129.7h0M418.9 136.6h0M419.6 130.2h0M421.0 136.9h0M421.2 131.9h0M422.2 139.5h0M422.9 134.4h0M423.9 127.2h0M424.1 128.5h0M425.5 131.6h0M426.7 130.4h0M427.0 131.1h0M427.7 136.5h0M428.6 134.2h0M429.8 128.8h0M430.3 129.2h0M430.9 130.4h0M431.7 128.7h0M433.0 129.1h0M433.5 133.9h0M434.3 132.1h0M435.4 132.2h0M436.3 125.9h0M437.2 129.4h0M436.7 127.7h0M437.6 129.2h0M438.4 126.6h0M439.8 129.5h0M440.2 128.4h0M441.3 129.1h0M442.1 128.3h0M443.2 124.8h0M443.5 129.1h0M444.4 127.3h0M445.1 129.1h0M446.5 128.0h0M446.8 129.2h0M447.6 123.4h0M448.6 127.2h0M449.1 129.5h0M450.1 126.3h0M450.1 123.1h0M451.7 126.9h0M452.7 127.5h0M453.1 123.5h0M453.7 126.0h0M454.5 127.9h0M455.2 121.2h0M456.4 120.9h0M457.9 122.5h0M458.1 124.0h0M458.6 119.8h0M459.0 125.9h0M460.9 128.7h0M460.8 124.1h0M462.1 124.1h0M462.7 122.9h0M464.0 121.7h0M465.0 118.7h0M465.8 116.4h0M466.7 110.2h0M466.9 114.1h0M467.7 117.8h0M468.8 114.6h0M469.9 109.9h0M469.8 116.7h0M471.0 107.0h0M471.8 108.7h0M473.0 114.1h0M473.1 114.2h0M473.8 113.0h0M475.1 110.1h0M475.2 109.4h0M475.7 108.5h0M476.7 112.8h0M477.8 103.5h0M479.1 110.4h0M479.5 114.6h0M480.8 109.3h0M481.1 101.7h0M482.3 111.3h0M482.7 105.2h0M483.7 104.4h0M484.5 110.4h0M485.8 109.0h0M486.2 110.0h0M487.4 107.1h0M487.3 105.7h0M488.1 105.3h0M489.3 108.1h0M490.2 107.1h0M490.8 107.7h0M492.0 108.1h0M493.0 105.1h0M493.2 109.6h0M494.2 105.9h0M494.8 106.8h0M495.6 101.4h0M496.5 102.3h0M497.6 101.9h0M498.1 101.8h0M499.0 100.3h0M500.1 97.8h0M500.4 99.1h0M501.5 100.5h0M502.3 99.1h0M502.6 96.4h0M503.6 97.2h0M504.6 98.8h0M505.6 97.0h0M505.8 94.0h0M506.9 96.9h0M508.4 95.7h0M509.1 99.2h0M508.9 96.7h0M510.5 96.2h0M510.9 94.4h0M511.5 90.9h0M512.5 94.5h0M513.2 91.5h0M514.1 86.3h0M515.0 88.8h0M515.5 87.9h0M516.3 83.3h0M517.4 84.2h0M517.8 80.2h0M518.9 84.5h0M519.5 84.0h0M520.0 84.1h0M521.4 83.5h0M521.9 82.7h0M522.9 84.9h0M523.8 82.5h0M524.2 83.7h0M525.7 79.9h0M526.3 81.4h0M526.9 76.9h0M528.3 74.6h0M528.6 77.5h0M529.7 76.5h0M530.1 78.1h0M531.1 74.2h0M531.9 75.4h0M532.8 72.1h0M533.3 71.3h0M533.8 71.8h0M535.0 73.7h0M535.6 69.9h0M536.9 67.4h0M537.3 66.7h0M537.9 62.6h0M539.3 64.2h0M539.7 59.3h0M540.5 64.1h0M540.9 57.8h0M542.5 62.4h0M543.4 56.6h0M543.9 55.2h0M544.7 55.2h0M545.4 58.6h0M546.2 53.9h0M546.9 54.3h0M547.5 53.4h0M548.7 56.1h0M548.6 48.6h0M549.7 53.1h0M551.7 50.9h0M551.7 52.8h0M551.7 49.1h0M552.2 49.6h0M553.9 47.6h0M555.0 47.1h0M556.1 48.2h0M556.6 54.2h0M557.1 49.9h0M557.8 50.4h0M559.2 47.4h0M560.0 50.8h0M561.0 46.5h0M561.3 49.0h0M561.6 44.5h0M563.1 47.1h0M564.3 49.8h0M564.6 46.3h0M564.8 44.5h0M566.2 44.2h0M566.9 46.0h0M567.4 42.9h0M567.9 47.0h0M568.9 39.9h0M570.4 43.5h0M571.2 43.0h0M572.4 45.6h0M572.6 44.2h0M573.2 45.9h0M574.8 43.0h0M574.5 45.6h0M576.1 40.6h0M576.3 42.0h0M577.5 46.0h0M577.8 42.3h0M579.1 40.3h0M579.9 45.3h0M581.2 48.6h0M581.1 45.9h0M582.0 45.2h0M582.9 49.9h0M583.2 47.4h0M585.0 50.3h0M585.0 47.0h0M585.8 45.5h0M587.3 50.1h0M587.5 46.8h0M588.4 49.5h0M589.9 50.0h0M590.1 54.2h0M591.1 51.6h0M590.9 55.9h0M592.7 51.7h0M593.3 50.9h0M593.8 50.0h0M595.1 55.3h0M595.8 56.3h0M596.7 55.1h0M597.0 56.6h0M598.5 57.1h0M599.3 54.8h0M599.4 59.4h0M600.3 57.3h0M601.2 57.1h0M602.0 56.0h0M602.3 62.4h0M603.8 53.5h0M604.2 55.9h0M605.0 53.0h0M606.3 64.0h0M606.8 62.5h0M607.9 58.4h0M608.9 58.2h0M609.1 62.3h0M610.5 64.3h0M610.9 62.9h0M611.7 65.8h0M612.8 69.8h0M613.6 67.1h0M614.0 71.6h0M615.0 68.3h0M616.3 72.8h0M616.7 69.4h0M617.1 72.9h0M617.9 73.2h0M618.6 71.8h0M619.8 72.4h0M620.6 73.6h0M620.9 70.5h0M622.0 78.1h0M622.9 71.9h0M623.5 74.7h0M624.9 73.7h0M625.5 76.0h0M626.0 73.6h0M626.8 74.6h0M627.9 72.5h0M628.9 79.0h0M629.5 81.3h0M630.3 73.9h0M630.9 79.6h0M631.5 76.1h0M632.6 80.5h0M633.2 79.1h0M633.9 78.7h0M634.9 83.1h0M635.2 80.0h0M637.1 82.1h0M637.4 83.8h0M637.8 79.4h0M638.3 79.4h0M639.8 85.8h0M640.4 83.0h0M641.4 87.2h0M642.2 82.2h0M642.7 81.8h0M643.8 87.0h0M644.3 93.8h0M645.8 92.3h0M646.2 92.5h0M646.7 92.9h0M648.4 91.6h0M648.3 94.9h0M649.6 97.3h0M649.8 95.7h0M650.8 93.7h0M651.7 96.4h0M652.8 99.5h0M653.0 99.6h0M654.0 98.9h0M654.7 104.2h0M655.6 98.7h0M656.2 106.0h0M658.0 102.7h0M658.0 105.7h0M658.4 108.6h0M659.7 109.3h0M661.3 109.0h0M661.6 112.7h0M661.9 110.2h0M663.4 114.3h0M663.7 110.7h0M664.8 115.3h0M666.0 118.2h0M76.0 184.5h0" stroke="#C00000"/>
<path d="M76.8 140.7h0M76.8 136.5h0M77.1 135.3h0M77.5 133.7h0M77.6 126.9h0M78.0 129.3h0M77.6 124.1h0M78.3 122.6h0M78.7 118.4h0M78.9 120.3h0M79.9 110.6h0M78.8 112.9h0M79.9 108.4h0M80.0 109.2h0M81.3 104.4h0M82.4 108.8h0M83.4 103.1h0M83.6 99.4h0M84.5 98.6h0M85.5 94.0h0M86.3 90.8h0M87.2 94.8h0M87.6 91.0h0M87.9 90.4h0M89.6 84.2h0M90.7 85.5h0M90.3 80.4h0M92.0 81.6h0M92.9 77.1h0M93.3 81.9h0M93.9 80.1h0M94.8 78.2h0M95.8 81.6h0M96.1 77.0h0M97.7 71.4h0M98.1 78.7h0M99.3 64.9h0M99.6 67.1h0M100.6 68.6h0M101.1 67.6h0M102.2 67.8h0M102.6 67.6h0M103.8 65.3h0M104.9 62.5h0M105.4 64.7h0M106.6 63.1h0M106.7 60.3h0M108.4 63.9h0M108.1 60.5h0M109.0 63.9h0M110.2 54.2h0M111.0 60.3h0M111.7 58.4h0M112.5 56.9h0M113.4 53.8h0M114.2 55.2h0M114.9 52.4h0M115.4 53.9h0M116.8 46.6h0M117.1 55.0h0M118.4 49.2h0M119.4 47.7h0M119.4 54.0h0M120.4 47.9h0M120.7 45.2h0M121.7 46.5h0M122.3 48.7h0M123.6 43.8h0M124.3 46.2h0M125.8 42.6h0M126.6 46.7h0M127.4 42.7h0M127.2 42.9h0M128.4 41.1h0M128.7 39.3h0M130.2 37.2h0M131.0 43.0h0M131.8 36.7h0M133.3 32.6h0M133.0 38.4h0M133.9 31.4h0M135.0 38.6h0M135.4 39.9h0M136.7 39.0h0M136.8 35.8h0M138.6 40.5h0M139.3 35.4h0M139.8 33.6h0M140.9 33.2h0M141.3 29.6h0M141.6 38.7h0M142.9 34.7h0M143.0 33.8h0M145.2 30.0h0M144.5 32.9h0M145.9 32.5h0M146.5 29.5h0M147.3 34.1h0M148.5 34.4h0M148.9 33.6h0M149.9 32.3h0M151.2 32.1h0M151.6 27.9h0M152.5 34.0h0M153.1 32.0h0M153.5 29.0h0M155.0 35.6h0M155.6 28.6h0M156.4 29.1h0M157.2 37.8h0M158.2 33.0h0M159.3 32.6h0M159.8 34.2h0M160.7 30.3h0M161.5 36.2h0M161.3 27.5h0M162.6 37.9h0M163.7 36.0h0M164.7 36.6h0M165.1 33.0h0M166.2 36.0h0M167.1 35.5h0M167.5 37.4h0M168.7 37.4h0M168.4 37.4h0M169.3 35.5h0M170.7 35.6h0M171.5 34.8h0M172.6 36.7h0M173.0 29.9h0M173.8 37.7h0M174.6 37.7h0M175.6 34.6h0M176.9 41.2h0M177.3 37.1h0M178.4 34.1h0M178.6 40.2h0M180.0 36.3h0M180.2 38.5h0M180.8 36.6h0M182.0 32.0h0M183.1 40.2h0M184.1 35.2h0M184.1 37.1h0M184.8 44.7h0M185.8 39.3h0M187.0 41.6h0M188.2 38.2h0M188.8 41.7h0M188.9 42.1h0M189.6 46.2h0M190.6 45.4h0M192.2 42.0h0M192.2 44.4h0M192.9 47.1h0M194.2 43.7h0M194.7 48.2h0M195.2 51.6h0M196.2 47.9h0M197.0 53.3h0M198.4 53.3h0M199.1 51.1h0M200.3 53.4h0M200.7 54.0h0M201.6 54.2h0M202.0 50.5h0M203.6 52.2h0M202.9 54.6h0M205.2 60.3h0M205.1 58.9h0M206.1 54.2h0M206.8 60.7h0M208.1 57.9h0M207.7 57.8h0M209.4 62.8h0M210.2 63.9h0M210.8 61.0h0M211.9 66.2h0M212.7 69.3h0M212.9 61.2h0M213.5 73.3h0M214.6 69.9h0M215.7 71.6h0M217.6 69.5h0M217.2 70.2h0M218.2 74.0h0M218.6 76.9h0M220.1 75.7h0M220.5 75.0h0M220.7 78.2h0M221.8 76.3h0M223.2 76.3h0M223.5 81.8h0M225.1 79.4h0M225.7 81.5h0M226.2 86.3h0M226.5 89.7h0M228.3 89.2h0M228.6 88.0h0M229.9 92.9h0M229.7 96.6h0M230.4 94.8h0M231.0 101.7h0M233.3 98.4h0M233.1 99.9h0M233.9 103.7h0M235.4 100.7h0M235.9 99.6h0M237.0 104.8h0M237.1 109.7h0M238.1 110.2h0M239.3 111.8h0M239.4 108.8h0M240.6 109.4h0M241.8 109.5h0M242.5 116.1h0M242.2 111.7h0M243.4 114.3h0M244.6 116.7h0M245.3 117.4h0M246.1 121.3h0M247.2 119.7h0M247.7 121.4h0M248.4 121.2h0M249.6 127.7h0M250.1 125.4h0M250.7 126.4h0M251.2 132.7h0M253.7 126.0h0M252.9 130.9h0M254.3 126.1h0M254.2 132.0h0M255.0 134.9h0M256.3 132.2h0M257.3 131.3h0M258.1 132.6h0M259.3 133.7h0M259.7 132.9h0M260.3 132.6h0M261.3 139.2h0M262.5 135.4h0M263.5 137.5h0M263.8 134.8h0M264.1 136.0h0M265.2 131.6h0M265.7 140.6h0M267.0 137.2h0M267.8 135.0h0M268.7 139.0h0M269.2 137.8h0M270.5 135.5h0M271.0 135.1h0M271.9 136.3h0M272.9 135.5h0M273.9 136.9h0M273.8 135.6h0M275.1 136.0h0M276.3 141.6h0M276.7 135.1h0M277.3 137.1h0M277.5 140.2h0M279.7 138.1h0M280.0 142.9h0M280.2 139.1h0M281.4 141.3h0M281.7 140.9h0M282.9 142.9h0M283.1 139.3h0M284.3 140.1h0M285.6 139.6h0M287.1 139.7h0M287.2 144.1h0M288.0 141.2h0M288.2 141.2h0M289.5 142.2h0M290.3 143.4h0M290.6 139.7h0M292.2 140.9h0M291.9 146.9h0M293.0 140.0h0M294.4 139.6h0M294.6 145.1h0M295.4 148.9h0M296.5 149.4h0M297.3 142.9h0M297.9 142.3h0M298.7 142.9h0M300.0 139.8h0M300.2 137.8h0M301.8 142.9h0M302.1 143.0h0M303.3 143.9h0M304.0 142.7h0M304.5 142.9h0M304.6 145.7h0M305.5 140.4h0M307.1 142.9h0M308.0 147.0h0M309.2 146.0h0M309.2 147.6h0M309.8 142.1h0M311.2 141.6h0M311.7 141.1h0M313.0 135.7h0M313.7 144.3h0M314.1 142.9h0M314.6 144.0h0M316.8 138.8h0M317.0 140.7h0M317.2 139.5h0M318.0 137.4h0M318.4 144.5h0M319.7 141.5h0M320.6 141.1h0M320.8 137.4h0M322.3 142.1h0M322.5 138.0h0M323.3 140.9h0M324.6 139.2h0M325.1 139.8h0M326.1 136.9h0M327.0 137.0h0M328.0 140.0h0M328.3 139.8h0M329.3 136.4h0M329.8 133.9h0M330.5 138.8h0M332.1 136.2h0M332.6 138.5h0M333.6 138.6h0M334.5 139.3h0M334.6 138.3h0M334.9 136.7h0M336.5 138.5h0M337.2 139.0h0M338.6 134.6h0M338.7 137.2h0M339.9 136.8h0M340.8 133.3h0M341.6 139.1h0M342.5 137.0h0M342.8 136.8h0M343.7 131.7h0M344.3 135.4h0M345.1 133.0h0M346.0 134.2h0M346.9 134.9h0M347.8 137.3h0M348.5 135.6h0M348.9 127.1h0M350.0 136.0h0M350.8 132.5h0M351.3 136.1h0M352.3 134.3h0M353.7 134.9h0M354.9 133.0h0M355.2 134.9h0M355.5 133.1h0M356.3 130.2h0M357.4 130.7h0M358.7 130.6h0M358.7 132.5h0M359.5 132.2h0M360.3 128.2h0M360.5 128.2h0M362.6 132.3h0M363.0 129.6h0M363.6 131.2h0M364.0 128.1h0M365.0 133.0h0M365.7 132.4h0M366.7 136.0h0M367.7 128.9h0M369.0 130.7h0M369.6 125.6h0M370.5 132.2h0M370.9 126.5h0M371.3 130.1h0M372.6 127.4h0M372.9 131.2h0M374.4 126.9h0M375.4 124.4h0M376.0 124.1h0M377.0 125.7h0M377.7 125.2h0M378.2 128.9h0M378.6 126.1h0M379.4 127.8h0M380.3 124.6h0M381.2 128.2h0M381.7 125.1h0M382.8 123.6h0M383.4 124.5h0M384.6 120.8h0M385.4 121.6h0M386.1 130.1h0M386.6 124.1h0M387.6 126.5h0M388.3 119.5h0M388.7 124.2h0M390.2 126.3h0M390.7 125.2h0M391.3 126.6h0M392.5 121.6h0M393.4 127.6h0M393.8 120.0h0M394.5 120.2h0M395.7 123.9h0M396.4 123.5h0M397.7 122.3h0M397.7 117.3h0M399.0 121.4h0M399.6 124.2h0M400.7 119.4h0M401.0 123.6h0M402.0 126.4h0M402.7 118.5h0M404.1 119.7h0M404.2 124.9h0M404.9 130.3h0M406.2 125.5h0M406.7 129.8h0M407.9 122.7h0M408.9 120.4h0M409.1 125.5h0M410.1 122.5h0M411.5 128.7h0M411.4 126.0h0M412.3 124.0h0M413.6 125.4h0M414.1 125.2h0M414.5 127.9h0M415.4 127.9h0M416.3 123.3h0M417.8 124.7h0M417.9 122.5h0M419.1 128.3h0M419.9 122.3h0M420.1 121.2h0M421.3 123.2h0M421.9 125.5h0M422.6 120.2h0M423.9 122.9h0M424.4 123.8h0M424.8 125.2h0M426.9 125.9h0M426.9 125.8h0M427.7 124.1h0M428.4 121.2h0M429.5 116.3h0M430.0 124.9h0M429.9 121.6h0M432.0 121.4h0M432.6 124.0h0M433.4 115.8h0M433.8 119.8h0M435.0 119.4h0M435.7 124.7h0M435.5 123.4h0M437.6 122.0h0M438.1 120.6h0M439.0 121.0h0M439.4 122.3h0M440.2 120.2h0M441.2 117.4h0M442.3 120.0h0M442.5 119.9h0M443.2 123.6h0M444.7 124.9h0M445.1 121.6h0M445.8 117.5h0M446.9 120.5h0M448.0 118.6h0M448.9 121.5h0M449.0 118.5h0M449.8 123.0h0M450.7 120.7h0M452.0 117.7h0M452.3 119.0h0M453.0 114.8h0M453.8 118.5h0M455.0 121.9h0M455.1 118.5h0M456.1 119.9h0M457.5 117.2h0M458.6 115.7h0M458.7 113.8h0M459.5 116.6h0M460.7 119.3h0M461.2 114.1h0M462.0 114.7h0M462.7 114.6h0M463.4 115.3h0M464.3 114.9h0M464.8 115.5h0M466.3 116.6h0M466.7 112.0h0M467.2 111.8h0M468.3 113.8h0M468.7 116.0h0M469.6 112.5h0M470.6 116.1h0M472.3 113.1h0M472.4 112.8h0M473.2 113.3h0M475.0 110.9h0M474.9 111.5h0M475.8 112.1h0M476.7 110.6h0M478.0 113.7h0M477.5 114.8h0M478.7 110.2h0M479.9 111.6h0M480.8 111.6h0M481.6 113.4h0M482.2 113.6h0M482.8 112.4h0M483.9 115.1h0M484.4 118.7h0M485.9 110.1h0M486.5 112.5h0M487.0 110.4h0M488.3 109.9h0M488.5 109.8h0M490.0 114.2h0M489.6 109.5h0M491.0 109.1h0M491.6 107.0h0M492.6 106.5h0M493.6 114.6h0M494.0 112.3h0M495.0 106.2h0M495.6 105.1h0M496.5 108.9h0M497.6 106.2h0M497.7 106.3h0M499.5 107.0h0M499.7 101.2h0M500.4 107.6h0M501.0 109.5h0M501.9 104.0h0M502.7 105.8h0M504.0 104.4h0M503.9 105.4h0M505.5 109.1h0M505.7 108.7h0M507.1 105.9h0M507.4 102.4h0M508.2 106.5h0M509.4 106.6h0M510.7 103.8h0M510.9 108.3h0M511.3 102.3h0M512.4 102.3h0M513.3 100.9h0M514.5 99.5h0M514.6 98.4h0M515.2 103.8h0M516.7 101.7h0M517.6 103.4h0M517.9 101.6h0M519.0 106.3h0M519.5 102.0h0M520.7 103.7h0M521.4 102.9h0M521.7 99.1h0M522.2 99.1h0M524.5 99.3h0M524.5 98.8h0M525.4 94.3h0M525.9 96.6h0M527.0 94.5h0M527.7 94.4h0M528.0 94.2h0M529.0 97.7h0M530.6 96.8h0M530.8 93.9h0M531.2 93.9h0M533.0 97.8h0M533.4 94.3h0M534.1 95.8h0M534.9 95.7h0M535.4 94.7h0M536.4 97.0h0M536.9 97.4h0M538.1 92.7h0M538.9 93.9h0M539.6 94.3h0M540.3 88.7h0M541.5 92.3h0M542.7 92.9h0M542.2 94.5h0M543.5 92.2h0M545.3 93.0h0M544.9 89.7h0M545.5 91.2h0M547.1 86.6h0M547.9 91.0h0M548.8 86.7h0M549.1 85.2h0M549.7 88.2h0M550.9 90.2h0M551.8 85.8h0M552.0 89.9h0M553.4 85.6h0M553.8 82.8h0M555.1 82.5h0M555.9 86.1h0M556.4 80.3h0M557.4 87.3h0M557.8 80.5h0M559.3 83.6h0M559.5 85.9h0M560.4 83.8h0M561.2 80.7h0M562.2 80.2h0M562.3 80.7h0M564.1 84.5h0M565.2 84.0h0M565.9 81.9h0M566.0 82.1h0M566.6 82.3h0M567.5 80.7h0M568.2 79.2h0M569.6 78.5h0M569.9 79.2h0M571.2 77.5h0M571.3 73.7h0M572.0 79.7h0M573.3 77.9h0M574.5 77.2h0M575.1 75.2h0M575.1 77.9h0M576.5 77.9h0M576.9 76.4h0M578.8 74.9h0M578.9 80.2h0M579.6 77.5h0M579.8 79.1h0M581.1 80.3h0M582.1 76.1h0M583.0 75.9h0M583.5 79.6h0M584.8 75.4h0M585.6 76.3h0M586.3 73.5h0M586.9 73.4h0M587.9 72.3h0M588.3 70.3h0M589.5 67.1h0M590.1 70.3h0M591.0 66.7h0M591.7 65.2h0M592.8 64.3h0M592.7 61.2h0M594.2 63.6h0M594.7 59.0h0M595.6 59.2h0M596.3 60.3h0M597.0 60.2h0M597.8 57.4h0M598.8 61.2h0M600.2 59.2h0M600.2 56.2h0M601.6 57.5h0M601.5 54.8h0M602.6 56.3h0M603.9 52.9h0M605.2 53.3h0M606.1 53.3h0M606.1 58.1h0M606.7 52.2h0M608.2 53.0h0M608.7 49.8h0M609.9 54.8h0M610.2 53.7h0M610.7 50.5h0M611.2 52.1h0M612.9 52.8h0M613.6 51.9h0M613.8 46.6h0M615.1 49.6h0M616.0 48.1h0M616.2 49.4h0M617.1 44.0h0M617.9 45.4h0M618.5 45.8h0M620.0 52.3h0M621.1 45.4h0M621.7 45.9h0M622.2 44.1h0M622.9 41.4h0M624.3 43.3h0M624.7 43.3h0M625.4 41.6h0M626.0 46.2h0M627.1 38.9h0M628.0 39.8h0M628.6 43.6h0M629.1 41.0h0M630.0 42.2h0M631.2 43.9h0M631.8 44.9h0M632.2 44.0h0M633.2 41.3h0M634.1 39.5h0M634.6 40.1h0M636.4 39.4h0M636.5 39.0h0M637.5 38.4h0M638.1 39.4h0M639.3 41.1h0M639.3 37.3h0M640.5 40.8h0M641.6 38.2h0M642.8 38.3h0M643.4 42.0h0M644.2 39.0h0M644.7 34.9h0M644.7 36.9h0M646.3 40.8h0M646.9 40.6h0M647.9 41.6h0M648.0 35.8h0M649.0 35.2h0M650.7 35.3h0M650.6 36.5h0M652.0 36.3h0M652.8 38.7h0M653.1 31.8h0M653.8 34.6h0M655.5 36.1h0M655.3 39.2h0M656.5 36.5h0M657.7 41.5h0M658.2 38.1h0M658.6 35.7h0M659.8 42.1h0M660.2 41.8h0M662.4 39.6h0M661.5 44.5h0M662.8 42.6h0M663.9 44.2h0M664.8 46.4h0M665.7 46.0h0" stroke="#7030A0"/>
<path d="M75.8 385.8h0M76.3 383.3h0M77.4 374.3h0M77.7 378.1h0M77.7 373.9h0M78.6 368.6h0M79.5 372.7h0M80.7 367.0h0M81.3 365.9h0M82.2 364.7h0M82.3 365.4h0M83.4 354.4h0M84.7 356.9h0M85.3 358.6h0M85.9 359.0h0M86.8 355.4h0M87.4 354.1h0M88.1 354.2h0M89.8 356.0h0M90.2 348.6h0M91.3 354.1h0M92.4 344.4h0M92.5 348.9h0M93.7 346.1h0M94.0 354.8h0M95.2 342.3h0M95.7 351.1h0M96.3 348.6h0M97.3 342.5h0M97.9 349.4h0M99.3 344.4h0M100.1 343.9h0M100.6 345.6h0M100.9 346.4h0M102.0 337.9h0M102.6 343.1h0M103.4 342.8h0M104.3 338.8h0M105.6 345.8h0M106.2 345.0h0M106.9 345.2h0M107.3 341.8h0M108.5 349.0h0M109.4 350.8h0M109.6 345.8h0M110.7 350.1h0M112.3 345.5h0M112.8 346.4h0M113.0 347.0h0M113.7 351.9h0M115.1 351.1h0M115.8 341.3h0M116.8 348.6h0M116.5 348.8h0M118.4 353.5h0M118.5 351.2h0M119.8 348.7h0M120.4 350.8h0M121.5 351.3h0M122.0 345.9h0M123.4 353.3h0M123.5 349.7h0M124.8 345.1h0M125.5 356.8h0M126.2 348.3h0M127.6 350.6h0M127.8 349.7h0M128.6 346.4h0M128.9 347.8h0M130.4 352.4h0M131.3 347.7h0M131.5 358.2h0M132.2 349.8h0M133.0 354.8h0M134.1 360.2h0M135.4 361.7h0M135.9 357.0h0M136.3 355.4h0M137.7 364.0h0M138.1 359.2h0M139.1 364.2h0M139.8 360.9h0M140.6 363.7h0M141.6 368.0h0M142.3 366.3h0M143.4 370.9h0M144.1 372.3h0M144.7 372.3h0M144.9 367.4h0M145.8 375.4h0M147.2 375.4h0M147.7 381.1h0M148.4 372.1h0M148.8 377.2h0M150.3 381.2h0M150.8 382.4h0M151.7 379.1h0M152.4 384.2h0M153.6 380.0h0M153.8 384.5h0M155.6 382.2h0M155.3 387.9h0M156.7 386.3h0M157.3 390.5h0M157.5 390.4h0M159.1 394.2h0M160.1 392.7h0M160.0 398.1h0M161.6 394.0h0M162.5 400.1h0M162.9 392.0h0M163.5 397.7h0M164.2 400.6h0M164.9 402.4h0M166.7 398.3h0M167.3 400.4h0M167.9 401.8h0M168.9 400.4h0M169.6 400.3h0M170.2 402.6h0M171.3 398.4h0M171.2 406.7h0M172.6 407.7h0M172.9 403.7h0M174.3 408.2h0M174.9 402.2h0M175.9 403.4h0M176.2 406.1h0M176.6 401.4h0M178.6 403.1h0M178.8 405.9h0M180.1 406.6h0M180.2 403.8h0M181.7 405.3h0M181.9 408.4h0M183.3 412.2h0M183.3 404.5h0M184.3 407.7h0M185.1 410.1h0M185.2 410.0h0M186.7 406.8h0M187.9 408.4h0M188.2 412.2h0M189.5 406.9h0M190.2 405.4h0M190.5 407.9h0M191.8 409.2h0M192.2 405.2h0M192.7 413.7h0M194.2 407.2h0M195.3 411.1h0M195.6 408.0h0M196.9 410.8h0M197.9 411.0h0M197.9 408.4h0M198.7 410.8h0M199.8 411.8h0M200.7 407.2h0M201.2 407.5h0M202.3 406.5h0M202.7 407.8h0M203.5 409.5h0M205.0 409.5h0M204.8 409.3h0M206.4 411.7h0M207.0 415.7h0M208.1 410.4h0M208.9 406.5h0M209.2 407.8h0M210.2 414.7h0M210.7 414.6h0M211.4 414.1h0M211.9 407.7h0M213.6 409.8h0M214.1 410.0h0M215.0 409.5h0M215.4 409.2h0M216.5 407.4h0M217.5 414.8h0M217.5 408.3h0M218.8 409.8h0M219.7 407.7h0M220.5 409.6h0M221.3 413.8h0M222.1 405.4h0M222.4 411.0h0M223.6 407.6h0M224.0 408.4h0M225.3 407.3h0M226.0 411.5h0M227.2 410.5h0M227.6 405.1h0M228.8 413.0h0M229.7 412.0h0M230.2 409.7h0M230.9 412.1h0M231.6 414.5h0M232.8 407.5h0M233.3 403.9h0M233.9 407.4h0M235.7 405.9h0M236.0 408.3h0M236.4 409.7h0M236.6 410.5h0M238.8 408.6h0M238.9 408.1h0M239.9 406.2h0M240.5 408.8h0M241.2 408.4h0M242.2 409.2h0M242.6 405.5h0M243.6 410.2h0M244.6 402.0h0M244.9 411.8h0M246.2 402.5h0M246.6 406.3h0M248.2 410.1h0M248.4 404.5h0M250.0 402.3h0M250.6 405.7h0M250.9 408.0h0M251.9 401.8h0M252.0 403.9h0M253.5 407.3h0M253.2 406.9h0M255.1 407.0h0M256.0 403.1h0M256.6 403.2h0M257.1 401.4h0M258.1 400.1h0M258.4 397.0h0M259.9 402.2h0M260.5 397.2h0M261.6 399.1h0M261.4 404.3h0M262.4 406.1h0M263.9 398.4h0M263.7 397.6h0M265.8 403.2h0M266.2 394.6h0M266.8 398.5h0M267.9 398.9h0M268.6 394.6h0M269.1 403.1h0M269.6 401.7h0M271.7 400.9h0M271.2 402.5h0M271.9 399.9h0M273.2 402.4h0M274.5 399.5h0M275.5 401.6h0M275.5 396.2h0M277.3 397.8h0M277.4 398.6h0M277.9 394.4h0M278.9 398.6h0M280.0 397.5h0M280.0 395.9h0M281.3 399.6h0M282.3 397.9h0M283.1 399.4h0M284.3 398.8h0M284.5 400.6h0M285.7 396.5h0M285.9 398.4h0M286.2 402.9h0M288.1 399.4h0M289.6 402.9h0M290.0 403.9h0M290.4 395.6h0M291.4 400.8h0M291.3 399.9h0M292.8 402.6h0M293.4 398.4h0M294.4 397.8h0M294.9 402.1h0M295.2 401.1h0M295.8 397.5h0M296.9 399.8h0M298.3 400.0h0M299.2 400.4h0M299.6 401.5h0M300.4 400.5h0M301.7 398.6h0M302.5 397.0h0M302.8 395.3h0M303.5 404.5h0M304.6 403.6h0M304.8 397.1h0M306.3 402.1h0M307.2 395.0h0M307.9 399.3h0M308.5 400.6h0M309.2 394.3h0M309.7 394.7h0M310.5 398.2h0M312.1 396.2h0M312.2 394.6h0M312.7 397.5h0M313.9 396.2h0M314.6 397.8h0M315.3 397.6h0M316.3 398.1h0M317.0 397.0h0M318.2 395.5h0M319.5 396.2h0M319.4 397.6h0M320.2 394.1h0M321.3 396.1h0M322.7 390.6h0M322.8 398.6h0M323.6 396.2h0M325.0 391.7h0M325.3 397.1h0M325.9 389.7h0M326.6 394.9h0M327.8 399.2h0M329.0 389.3h0M329.7 395.8h0M330.7 392.4h0M330.7 392.8h0M332.2 393.8h0M333.1 393.8h0M333.1 388.5h0M334.7 386.7h0M334.8 389.7h0M335.4 388.6h0M336.5 396.5h0M337.3 388.0h0M338.1 391.7h0M338.6 387.6h0M339.1 390.4h0M340.7 392.4h0M340.9 394.1h0M342.4 387.2h0M342.8 387.2h0M343.3 390.4h0M344.3 386.5h0M345.5 389.1h0M345.9 388.6h0M346.7 393.5h0M348.0 388.2h0M348.5 394.7h0M349.2 396.4h0M350.3 393.8h0M350.2 394.9h0M351.8 395.0h0M352.7 395.9h0M353.1 398.0h0M354.1 393.7h0M354.6 398.1h0M355.8 392.4h0M355.8 402.3h0M357.3 407.8h0M357.6 399.2h0M358.7 400.9h0M360.2 402.9h0M360.2 401.0h0M360.9 397.6h0M362.2 397.5h0M362.6 398.4h0M363.7 393.3h0M364.4 388.9h0M365.5 391.5h0M366.3 394.7h0M366.6 387.4h0M367.7 389.3h0M368.4 388.2h0M369.5 379.2h0M369.9 377.1h0M370.8 380.2h0M371.9 380.4h0M372.5 382.2h0M373.5 373.2h0M373.9 375.6h0M375.5 372.0h0M375.6 371.3h0M376.8 368.5h0M377.4 366.0h0M377.9 363.7h0M379.1 363.5h0M379.9 365.6h0M380.8 356.5h0M381.0 360.3h0M382.0 365.7h0M383.8 367.6h0M384.2 364.2h0M384.4 364.6h0M384.6 365.6h0M386.1 364.7h0M386.5 359.9h0M387.5 362.9h0M388.6 362.2h0M389.4 365.3h0M389.7 363.4h0M390.4 362.5h0M392.0 362.4h0M393.1 366.4h0M393.6 365.9h0M394.4 369.5h0M394.9 365.8h0M395.5 373.7h0M396.4 367.9h0M397.1 365.3h0M397.9 371.8h0M398.7 369.4h0M399.8 373.3h0M400.4 373.2h0M401.0 375.2h0M401.8 372.1h0M402.9 372.2h0M403.3 379.7h0M405.0 369.1h0M405.3 370.7h0M406.2 370.8h0M407.1 376.2h0M408.3 378.2h0M408.3 377.6h0M409.1 374.7h0M409.9 370.0h0M411.1 369.2h0M411.6 376.2h0M412.5 370.0h0M413.1 376.2h0M414.5 378.5h0M414.3 375.0h0M415.5 375.7h0M415.9 373.0h0M417.5 371.5h0M418.0 370.5h0M419.3 369.6h0M419.4 372.4h0M420.4 379.3h0M421.4 371.0h0M422.3 374.3h0M423.0 373.2h0M423.9 370.2h0M424.1 372.4h0M424.9 375.7h0M426.8 377.3h0M427.1 374.9h0M427.5 370.5h0M428.7 370.3h0M429.4 374.3h0M430.4 375.2h0M430.9 374.0h0M431.1 375.4h0M432.7 380.1h0M433.8 375.2h0M433.8 380.9h0M434.7 387.1h0M435.8 376.5h0M436.3 386.2h0M436.7 383.1h0M437.6 388.0h0M438.7 381.3h0M439.1 382.8h0M439.6 384.0h0M442.0 386.2h0M442.0 383.2h0M443.0 385.6h0M443.4 391.4h0M444.7 385.5h0M445.8 388.3h0M446.3 389.4h0M447.3 391.3h0M447.6 392.1h0M448.4 391.0h0M449.9 388.3h0M449.7 390.9h0M450.7 396.5h0M451.2 400.1h0M453.0 393.2h0M453.4 394.3h0M454.3 398.0h0M455.2 399.1h0M456.4 397.2h0M456.7 397.9h0M457.3 399.7h0M458.1 400.6h0M458.6 399.6h0M459.5 397.1h0M460.3 399.2h0M461.2 396.5h0M462.0 398.0h0M462.6 401.9h0M464.1 402.4h0M464.3 400.5h0M465.8 397.3h0M466.5 397.9h0M466.7 402.4h0M467.6 407.2h0M468.7 402.6h0M469.6 403.1h0M469.8 406.4h0M471.4 407.2h0M471.3 409.4h0M472.4 406.6h0M473.7 411.6h0M473.5 402.4h0M475.3 407.2h0M475.6 397.9h0M476.7 406.1h0M476.4 414.6h0M477.2 405.8h0M478.9 408.3h0M480.0 407.1h0M480.2 407.0h0M480.6 404.9h0M482.8 406.0h0M482.9 413.3h0M484.1 408.1h0M484.8 406.7h0M485.0 410.1h0M486.1 411.5h0M486.8 405.5h0M487.8 405.7h0M488.4 403.4h0M489.4 406.5h0M490.7 405.2h0M490.3 406.4h0M492.5 403.5h0M492.2 404.0h0M492.3 403.3h0M494.0 399.6h0M495.1 401.1h0M495.1 401.3h0M496.7 408.5h0M497.7 403.3h0M497.9 401.7h0M499.2 400.7h0M499.8 404.7h0M500.2 400.0h0M501.5 401.6h0M502.1 399.9h0M502.9 406.5h0M504.2 396.6h0M504.5 401.4h0M505.3 397.2h0M506.1 401.6h0M506.7 402.1h0M506.9 397.0h0M508.5 402.4h0M509.2 400.1h0M510.2 404.5h0M511.2 401.2h0M511.5 404.4h0M512.7 403.9h0M513.2 398.8h0M514.2 399.4h0M515.3 403.5h0M515.0 402.9h0M517.0 403.8h0M517.1 398.3h0M518.4 403.5h0M518.9 397.2h0M519.2 401.2h0M520.2 398.4h0M521.5 403.2h0M521.4 398.2h0M523.3 399.8h0M523.6 401.6h0M524.1 396.2h0M525.3 404.1h0M526.4 399.6h0M527.2 398.4h0M527.3 394.8h0M528.6 402.2h0M529.4 399.6h0M530.0 402.8h0M530.9 395.7h0M532.2 398.0h0M532.6 399.9h0M533.7 400.7h0M534.5 400.6h0M534.7 398.7h0M535.9 397.8h0M536.8 399.6h0M537.0 397.9h0M538.1 405.5h0M539.2 400.6h0M539.4 406.1h0M540.4 400.8h0M541.2 404.7h0M542.2 399.7h0M543.0 398.3h0M543.3 400.8h0M543.5 404.7h0M546.0 398.3h0M546.1 397.3h0M547.0 402.7h0M548.0 398.7h0M548.3 401.0h0M549.2 409.8h0M550.0 403.5h0M550.7 406.2h0M552.6 407.5h0M553.0 401.4h0M553.7 404.6h0M554.5 407.5h0M555.1 399.6h0M555.7 402.6h0M556.7 403.8h0M557.7 398.7h0M557.8 402.5h0M559.0 401.0h0M559.7 401.7h0M560.9 400.7h0M561.4 395.3h0M561.2 395.7h0M563.0 392.9h0M563.8 398.6h0M564.5 396.3h0M565.2 400.2h0M566.2 397.2h0M566.7 397.3h0M568.1 396.1h0M568.4 392.3h0M569.3 392.6h0M569.6 397.3h0M570.7 388.7h0M571.5 399.6h0M572.5 390.6h0M572.9 396.5h0M574.2 395.3h0M574.8 396.3h0M576.2 396.6h0M576.4 391.6h0M577.5 400.3h0M578.3 392.4h0M579.0 399.8h0M579.5 397.5h0M580.9 400.5h0M580.8 390.6h0M582.2 397.3h0M582.8 394.8h0M583.6 397.8h0M583.7 394.6h0M584.9 391.4h0M585.6 390.1h0M586.9 392.1h0M588.3 390.7h0M588.6 391.5h0M589.4 393.8h0M590.1 389.1h0M590.9 387.6h0M591.7 389.2h0M592.5 385.3h0M593.3 385.9h0M593.9 385.1h0M594.7 383.1h0M596.4 380.5h0M596.5 375.3h0M597.6 377.6h0M598.4 374.6h0M599.1 380.6h0M599.8 373.5h0M600.1 373.5h0M601.5 374.3h0M601.7 368.8h0M602.6 368.0h0M603.6 370.9h0M605.2 369.9h0M605.8 363.9h0M606.6 370.2h0M607.1 369.7h0M607.9 372.2h0M608.8 361.2h0M608.7 370.3h0M610.1 368.9h0M610.8 362.8h0M611.6 365.1h0M612.6 362.0h0M613.5 365.1h0M613.8 359.8h0M614.2 361.7h0M615.7 360.1h0M616.3 361.1h0M617.3 362.5h0M618.4 361.5h0M619.3 356.9h0M619.9 360.3h0M620.1 357.0h0M621.5 359.0h0M621.7 357.3h0M623.4 362.4h0M623.3 365.4h0M623.4 363.0h0M624.4 364.6h0M624.1 369.1h0M625.9 361.9h0M626.2 365.9h0M626.8 365.6h0M628.6 367.7h0M628.5 367.6h0M629.0 368.1h0M630.2 374.3h0M631.0 373.6h0M631.3 369.2h0M632.3 364.5h0M634.6 368.4h0M634.2 367.0h0M634.7 366.2h0M636.1 368.1h0M636.4 369.9h0M636.9 370.2h0M638.0 370.9h0M638.8 369.9h0M639.9 372.7h0M640.3 372.9h0M641.0 369.8h0M642.1 371.0h0M642.0 368.0h0M643.6 373.7h0M644.3 375.6h0M644.7 371.8h0M646.3 372.0h0M647.0 374.9h0M647.4 374.3h0M648.9 372.4h0M648.5 370.2h0M649.8 371.1h0M651.0 372.5h0M652.6 377.1h0M652.0 375.4h0M653.8 379.3h0M653.7 381.7h0M654.7 386.5h0M655.5 383.2h0M656.7 381.5h0M657.2 387.3h0M658.3 384.9h0M659.1 391.1h0M660.0 388.6h0M660.6 384.5h0M661.3 389.8h0M76.0 414.6h0M77.0 392.6h0M382.0 353.0h0M357.5 408.0h0" stroke="#EBB10B"/>
<path d="M76.6 386.5h0M76.7 383.4h0M77.0 381.6h0M76.9 381.6h0M77.0 376.7h0M77.6 378.1h0M76.8 368.6h0M77.8 370.4h0M77.6 365.7h0M77.8 368.8h0M78.1 357.6h0M77.9 355.3h0M79.2 355.8h0M79.8 356.2h0M79.6 354.3h0M80.2 352.9h0M80.0 347.7h0M80.9 346.8h0M81.8 341.0h0M82.5 346.0h0M84.2 337.2h0M84.4 337.1h0M84.8 337.0h0M85.9 337.6h0M86.9 331.0h0M86.6 329.7h0M88.6 326.7h0M89.4 328.5h0M89.3 324.6h0M90.8 325.3h0M91.6 321.9h0M92.2 319.7h0M93.1 316.3h0M94.1 316.7h0M94.9 314.9h0M95.6 315.1h0M96.6 314.7h0M97.4 311.8h0M97.9 310.4h0M98.3 309.5h0M99.9 310.6h0M100.0 308.4h0M101.4 303.5h0M102.0 306.8h0M103.0 305.8h0M102.9 299.4h0M105.0 302.7h0M105.5 306.0h0M105.9 299.4h0M107.2 301.4h0M107.7 302.1h0M108.6 302.7h0M108.6 296.2h0M109.9 299.1h0M111.0 298.0h0M111.4 302.7h0M112.8 299.9h0M113.5 294.5h0M113.9 295.9h0M114.3 293.7h0M115.6 292.7h0M116.5 296.8h0M117.0 294.9h0M118.1 297.0h0M118.8 292.9h0M118.9 301.2h0M120.1 295.4h0M120.5 294.6h0M121.6 299.0h0M121.8 294.2h0M123.4 297.3h0M124.0 298.3h0M124.6 301.1h0M126.3 302.0h0M126.5 306.0h0M127.7 301.6h0M128.1 304.0h0M129.1 309.9h0M129.7 308.1h0M130.7 307.1h0M131.3 313.2h0M132.7 308.8h0M133.3 314.5h0M134.3 318.1h0M135.4 318.8h0M135.4 317.5h0M135.8 322.5h0M137.3 324.8h0M138.0 320.6h0M138.6 325.2h0M139.6 329.1h0M140.8 329.2h0M140.4 327.1h0M141.2 328.9h0M142.3 332.3h0M143.4 335.5h0M144.7 332.6h0M145.4 334.7h0M146.1 338.9h0M146.3 336.5h0M148.0 336.0h0M148.4 339.6h0M149.0 337.5h0M149.7 339.7h0M151.1 344.2h0M151.7 342.1h0M152.5 346.8h0M153.5 346.0h0M154.2 352.6h0M155.3 348.3h0M155.1 348.4h0M156.6 354.8h0M157.2 352.5h0M158.3 359.8h0M158.7 356.4h0M159.9 358.7h0M160.8 357.2h0M161.2 358.0h0M161.7 358.8h0M162.6 361.4h0M163.4 361.0h0M164.0 358.5h0M165.6 359.8h0M166.5 365.2h0M165.9 362.1h0M167.4 364.4h0M168.2 363.6h0M169.5 365.5h0M170.2 364.9h0M170.5 370.7h0M171.4 365.5h0M172.2 371.6h0M173.0 368.0h0M174.1 373.0h0M174.6 370.5h0M175.4 378.7h0M176.2 377.1h0M177.0 374.7h0M177.2 374.9h0M178.7 374.5h0M179.4 372.8h0M179.8 377.3h0M180.9 377.4h0M181.8 377.1h0M182.4 383.6h0M183.1 378.4h0M184.2 377.5h0M184.8 383.3h0M186.2 382.2h0M187.8 384.5h0M187.9 381.0h0M188.7 387.6h0M189.0 388.5h0M189.6 381.6h0M190.7 382.7h0M191.7 382.3h0M192.3 380.6h0M193.1 388.2h0M193.8 386.7h0M195.1 383.6h0M195.1 386.8h0M196.4 386.3h0M196.8 390.2h0M197.5 386.9h0M198.7 389.7h0M199.3 386.2h0M201.0 386.5h0M201.4 388.6h0M201.7 389.2h0M202.6 390.4h0M202.6 389.9h0M204.3 387.9h0M205.0 396.4h0M206.5 392.5h0M206.8 390.5h0M208.0 390.4h0M208.0 393.5h0M208.8 390.2h0M210.4 388.4h0M210.7 392.9h0M211.6 389.3h0M212.2 392.3h0M213.8 395.8h0M213.6 395.8h0M214.9 393.6h0M215.4 393.4h0M215.8 392.7h0M217.4 398.0h0M218.5 393.7h0M218.9 388.9h0M219.4 391.9h0M220.6 391.2h0M220.7 392.7h0M222.0 397.7h0M222.4 400.2h0M223.6 394.0h0M224.4 396.1h0M225.4 397.2h0M226.7 399.4h0M226.5 398.6h0M227.8 394.3h0M228.0 394.9h0M228.2 398.5h0M229.8 400.0h0M230.5 397.2h0M231.8 399.4h0M232.4 394.4h0M233.9 399.0h0M234.4 400.6h0M235.2 397.4h0M235.7 397.7h0M235.8 397.8h0M236.8 396.5h0M237.6 396.8h0M238.5 400.7h0M239.6 395.5h0M240.0 393.1h0M241.1 392.8h0M241.8 391.0h0M243.0 391.8h0M243.2 393.3h0M244.0 391.8h0M244.9 389.7h0M245.8 389.8h0M246.3 392.6h0M247.4 388.0h0M248.2 392.0h0M249.3 392.4h0M250.0 392.9h0M250.5 389.4h0M251.7 390.3h0M252.3 392.9h0M253.4 394.2h0M253.7 390.3h0M254.9 387.7h0M255.1 392.7h0M256.1 388.9h0M257.4 392.5h0M258.2 390.3h0M258.6 390.3h0M259.6 386.1h0M260.1 392.7h0M260.8 390.8h0M261.9 392.1h0M262.5 388.1h0M264.4 389.0h0M264.9 386.4h0M265.1 390.2h0M266.6 395.5h0M267.0 388.1h0M267.2 388.6h0M268.1 391.0h0M268.8 389.7h0M270.4 393.8h0M270.1 387.9h0M271.4 393.3h0M272.2 394.7h0M273.2 393.5h0M273.6 389.2h0M275.1 391.2h0M274.9 389.1h0M276.4 391.2h0M276.9 393.8h0M278.0 393.0h0M278.8 389.6h0M279.4 386.4h0M280.6 390.9h0M281.4 388.0h0M281.6 387.8h0M282.6 388.5h0M283.8 386.1h0M284.1 389.8h0M285.4 393.3h0M286.1 385.7h0M286.3 385.5h0M287.5 387.8h0M288.3 385.3h0M289.0 386.0h0M290.1 385.8h0M290.4 382.0h0M292.0 383.9h0M292.2 383.4h0M293.5 382.0h0M294.0 381.5h0M294.9 379.1h0M295.6 383.5h0M296.7 381.9h0M297.2 383.7h0M298.1 382.8h0M298.3 376.3h0M299.8 377.9h0M300.2 375.9h0M301.6 375.1h0M301.9 374.5h0M302.6 383.3h0M304.3 376.7h0M304.0 382.0h0M304.8 373.8h0M306.0 375.7h0M306.2 381.2h0M307.3 376.1h0M308.4 378.4h0M309.5 379.3h0M310.5 381.9h0M311.3 382.0h0M311.5 380.8h0M312.3 375.9h0M312.7 381.7h0M313.1 378.1h0M314.3 380.1h0M315.1 381.1h0M316.2 379.5h0M316.8 375.5h0M317.9 377.9h0M318.6 382.0h0M319.9 382.9h0M320.8 377.9h0M321.3 385.2h0M322.0 378.8h0M322.8 380.2h0M323.3 384.2h0M324.2 379.0h0M324.9 386.6h0M325.6 383.6h0M326.8 384.9h0M327.4 379.9h0M328.1 379.9h0M330.0 383.0h0M329.8 385.8h0M330.9 382.5h0M331.7 383.7h0M332.7 387.3h0M333.0 383.4h0M333.8 386.6h0M334.8 385.8h0M335.8 382.5h0M336.3 387.6h0M337.4 386.4h0M337.8 383.7h0M338.4 384.1h0M339.5 381.4h0M340.7 383.1h0M341.2 386.4h0M341.7 380.6h0M343.0 386.0h0M343.4 387.7h0M344.6 382.6h0M345.1 380.6h0M345.8 388.2h0M346.4 386.7h0M347.0 383.8h0M348.6 388.5h0M349.3 386.1h0M350.5 378.2h0M350.1 388.5h0M352.3 385.2h0M352.3 384.1h0M353.1 381.8h0M353.9 382.8h0M354.9 384.5h0M355.8 384.1h0M356.0 385.8h0M356.2 382.5h0M358.0 380.8h0M359.3 379.2h0M359.1 380.4h0M360.4 383.4h0M361.1 382.9h0M361.7 379.6h0M362.8 377.6h0M363.6 379.7h0M364.5 377.9h0M364.9 378.8h0M365.8 377.5h0M366.6 376.4h0M367.7 381.1h0M368.3 378.8h0M368.8 376.7h0M369.8 376.6h0M370.3 378.9h0M371.5 377.3h0M372.0 377.9h0M372.9 376.8h0M374.0 379.3h0M375.0 375.9h0M375.9 374.3h0M376.2 380.1h0M377.9 377.0h0M377.8 375.6h0M378.3 376.0h0M379.4 374.3h0M380.7 374.1h0M381.7 377.8h0M382.1 374.2h0M382.5 370.7h0M383.6 374.7h0M384.4 373.6h0M385.3 371.5h0M385.2 376.1h0M387.1 367.2h0M387.9 373.8h0M388.3 370.8h0M388.8 376.1h0M389.7 374.1h0M390.7 378.9h0M391.8 370.7h0M392.1 370.9h0M392.6 371.9h0M394.3 373.4h0M394.9 372.8h0M395.4 373.0h0M396.3 377.2h0M397.7 373.1h0M398.1 367.0h0M398.7 377.3h0M399.2 373.1h0M400.7 369.8h0M401.0 369.2h0M402.2 370.0h0M403.2 372.4h0M403.5 375.4h0M404.2 367.3h0M405.0 366.2h0M405.8 367.8h0M407.0 363.7h0M407.0 365.3h0M408.2 367.9h0M408.8 370.1h0M409.7 365.4h0M410.7 368.2h0M411.6 364.9h0M412.1 364.7h0M413.2 362.9h0M413.9 358.8h0M414.5 365.6h0M416.0 362.1h0M415.6 366.2h0M417.0 367.5h0M417.8 363.3h0M418.5 364.0h0M419.9 357.8h0M420.7 367.1h0M421.0 357.0h0M422.0 358.7h0M422.2 356.8h0M423.6 355.4h0M424.7 360.0h0M425.0 362.0h0M425.6 360.1h0M426.2 357.4h0M427.7 356.6h0M428.3 359.2h0M429.6 360.6h0M430.1 356.6h0M430.2 361.2h0M432.1 351.6h0M432.6 356.5h0M433.3 357.2h0M433.8 356.2h0M434.7 358.9h0M435.4 354.4h0M436.5 357.0h0M437.3 355.8h0M438.4 357.7h0M438.8 354.3h0M439.7 350.0h0M440.1 352.6h0M441.2 353.0h0M442.7 355.2h0M442.8 358.3h0M443.5 351.4h0M444.7 353.5h0M445.4 353.7h0M445.8 348.5h0M446.5 349.2h0M447.8 345.3h0M448.1 343.2h0M449.8 346.8h0M450.0 340.2h0M450.4 339.8h0M451.5 336.3h0M452.2 340.5h0M453.1 336.0h0M453.2 333.2h0M454.7 330.5h0M455.0 330.1h0M456.0 327.1h0M456.6 326.7h0M458.2 323.1h0M458.8 319.7h0M459.7 323.0h0M460.2 322.3h0M460.8 319.0h0M462.5 318.0h0M462.3 320.2h0M463.7 316.1h0M463.7 311.7h0M464.6 319.5h0M466.0 313.5h0M467.1 318.7h0M467.2 316.0h0M467.7 315.4h0M469.7 310.8h0M469.9 312.4h0M470.7 314.0h0M471.6 315.7h0M472.5 315.9h0M473.4 315.9h0M473.7 314.0h0M474.6 310.8h0M476.2 313.5h0M476.3 307.5h0M477.0 314.4h0M477.8 311.1h0M479.2 311.6h0M479.4 312.0h0M480.2 314.7h0M481.3 311.9h0M481.8 311.5h0M483.3 311.2h0M483.7 308.1h0M484.4 313.6h0M485.5 312.8h0M486.1 312.8h0M487.1 317.0h0M487.6 310.0h0M488.5 311.6h0M489.3 313.6h0M490.0 310.3h0M490.8 307.8h0M491.6 308.0h0M492.5 309.7h0M493.0 305.7h0M493.9 306.2h0M494.7 308.9h0M495.8 303.3h0M496.6 309.1h0M497.5 305.9h0M497.9 308.9h0M498.6 300.7h0M499.5 304.8h0M500.0 300.9h0M501.8 303.8h0M502.2 301.9h0M502.2 302.6h0M504.0 301.3h0M503.7 302.4h0M505.0 302.8h0M505.6 302.2h0M506.5 305.4h0M507.6 305.7h0M508.3 298.8h0M508.4 305.8h0M510.2 307.1h0M510.7 301.1h0M511.3 307.0h0M512.8 305.8h0M512.9 305.4h0M514.2 310.0h0M514.1 311.4h0M515.2 305.3h0M515.8 307.6h0M517.9 316.0h0M517.5 308.7h0M518.8 311.9h0M519.3 307.7h0M520.2 310.5h0M520.5 312.9h0M521.4 308.8h0M523.2 315.8h0M524.0 314.3h0M524.2 314.3h0M524.6 316.9h0M526.0 314.8h0M526.1 315.9h0M528.0 320.2h0M528.6 316.4h0M529.2 319.1h0M530.0 320.8h0M530.5 313.1h0M530.7 317.2h0M531.8 321.6h0M533.5 320.6h0M534.1 321.4h0M534.8 320.7h0M535.4 325.4h0M536.2 323.0h0M537.5 326.1h0M537.8 325.0h0M538.4 325.3h0M539.6 325.6h0M540.4 327.1h0M540.3 324.8h0M541.9 326.2h0M542.4 327.4h0M544.0 328.0h0M544.1 327.9h0M544.7 330.9h0M545.6 332.5h0M547.0 332.3h0M547.9 331.4h0M547.7 332.2h0M549.3 329.3h0M549.5 336.5h0M550.9 338.0h0M551.7 335.7h0M552.4 338.6h0M553.1 336.9h0M554.0 337.6h0M555.5 337.5h0M555.0 337.1h0M556.7 340.2h0M557.2 341.6h0M558.0 339.4h0M558.7 342.3h0M559.9 346.1h0M559.9 343.2h0M561.3 349.3h0M562.2 346.9h0M563.1 342.2h0M563.3 346.4h0M564.0 350.8h0M565.2 350.9h0M565.9 352.4h0M567.0 350.2h0M567.8 350.0h0M568.9 349.8h0M569.0 350.9h0M569.9 357.4h0M570.5 359.2h0M572.0 356.5h0M572.1 358.5h0M572.1 355.3h0M574.2 358.1h0M575.5 357.7h0M575.1 360.0h0M576.5 366.0h0M576.5 363.4h0M578.3 362.7h0M578.6 362.6h0M579.8 368.9h0M580.5 369.0h0M581.4 369.7h0M582.1 373.5h0M583.1 374.2h0M583.5 376.0h0M583.8 371.2h0M585.7 377.1h0M585.5 376.5h0M586.7 379.1h0M587.2 382.3h0M587.7 387.4h0M588.7 385.0h0M590.1 377.1h0M590.3 381.7h0M591.6 380.8h0M592.3 382.6h0M592.7 382.6h0M594.7 381.1h0M594.4 384.6h0M596.0 385.8h0M596.1 383.3h0M597.2 383.2h0M598.0 386.6h0M598.9 384.2h0M599.4 388.9h0M599.9 389.6h0M601.4 385.1h0M601.7 389.6h0M603.1 387.5h0M604.2 381.0h0M604.3 384.9h0M604.9 386.0h0M606.1 387.3h0M606.7 382.9h0M607.7 387.8h0M609.0 388.8h0M609.1 383.8h0M610.8 385.1h0M610.8 388.8h0M611.7 390.4h0M612.0 385.5h0M613.2 384.3h0M613.7 390.8h0M614.8 387.2h0M615.3 387.6h0M616.3 384.9h0M617.4 384.4h0M618.3 386.7h0M617.9 383.7h0M619.6 385.3h0M620.9 390.8h0M621.8 389.6h0M622.4 385.8h0M623.2 386.2h0M623.5 383.8h0M624.3 388.1h0M625.1 384.4h0M626.2 389.3h0M626.7 389.0h0M627.8 384.5h0M628.3 382.3h0M628.7 388.0h0M629.6 387.9h0M630.8 381.8h0M631.3 390.6h0M632.3 387.1h0M632.9 382.8h0M633.4 393.8h0M634.6 384.4h0M635.5 381.6h0M636.8 390.4h0M636.8 386.7h0M637.6 387.8h0M638.4 385.0h0M640.0 386.3h0M640.2 381.0h0M640.5 387.5h0M642.1 384.4h0M643.1 384.4h0M616.0 434.0h0M618.0 434.0h0M620.0 434.0h0M622.0 434.0h0M624.0 434.0h0M614.0 392.0h0M599.0 395.0h0M609.0 400.0h0M620.0 391.0h0" stroke="#404040"/>
<path d="M76.1 386.7h0M76.5 385.3h0M77.6 384.5h0M77.0 379.8h0M76.9 375.0h0M76.6 373.2h0M77.0 366.7h0M77.4 363.5h0M78.4 369.1h0M78.0 367.9h0M78.9 354.2h0M79.1 356.1h0M78.9 356.1h0M80.3 355.7h0M79.8 351.4h0M80.8 353.1h0M81.9 344.8h0M82.4 339.4h0M83.2 343.8h0M83.6 339.6h0M85.1 339.2h0M85.5 337.7h0M87.2 339.5h0M86.9 332.0h0M88.2 330.8h0M88.8 331.1h0M90.7 331.3h0M90.4 324.6h0M91.8 324.9h0M92.0 326.2h0M93.3 324.4h0M93.8 324.0h0M94.5 317.0h0M95.5 315.4h0M96.7 319.8h0M96.5 317.5h0M98.2 315.3h0M98.8 313.9h0M99.5 314.2h0M100.5 311.2h0M100.7 313.6h0M101.7 313.2h0M102.5 307.8h0M103.8 311.0h0M104.6 308.8h0M105.0 312.1h0M105.3 312.5h0M106.9 307.3h0M107.5 308.3h0M108.0 306.9h0M108.8 301.0h0M110.0 305.3h0M110.9 306.0h0M111.7 306.1h0M111.9 306.7h0M114.0 301.8h0M113.5 304.5h0M115.0 304.9h0M116.0 298.4h0M116.4 302.6h0M117.5 298.8h0M117.9 299.6h0M118.6 299.6h0M119.4 295.0h0M120.3 299.2h0M121.0 289.7h0M121.7 296.6h0M122.4 302.1h0M123.8 297.5h0M124.5 306.2h0M124.8 299.2h0M125.7 301.9h0M127.1 298.1h0M127.7 296.6h0M127.7 301.0h0M129.7 298.4h0M129.7 295.0h0M131.5 296.9h0M131.2 299.7h0M132.7 300.7h0M133.1 300.9h0M134.2 301.2h0M134.8 301.5h0M135.1 305.4h0M136.1 299.2h0M136.9 303.1h0M138.2 299.8h0M138.3 304.5h0M139.6 301.9h0M139.9 305.7h0M141.1 301.8h0M141.6 310.3h0M142.3 309.9h0M143.0 311.8h0M144.9 307.3h0M144.9 311.3h0M145.5 311.9h0M147.1 312.1h0M147.6 311.9h0M148.7 311.1h0M149.7 314.1h0M149.8 311.3h0M150.5 317.3h0M151.9 314.1h0M152.3 317.8h0M152.7 321.0h0M153.6 324.6h0M153.8 325.6h0M154.8 320.3h0M156.5 325.6h0M157.1 325.4h0M157.5 327.3h0M158.7 328.3h0M159.4 329.6h0M160.4 330.2h0M160.4 327.7h0M161.9 335.7h0M163.0 334.7h0M163.1 333.9h0M164.6 337.1h0M165.4 339.4h0M165.8 335.9h0M166.5 343.4h0M167.3 344.0h0M167.7 345.7h0M170.1 346.8h0M170.0 341.8h0M170.5 344.3h0M171.6 341.9h0M172.0 350.0h0M173.2 350.9h0M174.2 347.2h0M174.2 352.3h0M175.5 352.5h0M176.0 355.9h0M177.3 357.1h0M177.8 357.0h0M178.7 353.9h0M179.5 353.2h0M180.2 358.9h0M181.3 356.8h0M181.4 358.6h0M182.0 359.8h0M184.4 362.6h0M184.0 361.6h0M185.7 361.4h0M185.9 365.0h0M186.4 364.2h0M186.9 364.8h0M188.8 371.5h0M189.0 370.9h0M190.1 370.3h0M190.7 374.0h0M191.7 371.5h0M192.2 375.5h0M192.9 372.5h0M193.8 374.2h0M195.1 377.5h0M195.5 376.4h0M196.8 379.8h0M197.8 381.9h0M197.8 379.0h0M198.6 381.5h0M199.8 382.9h0M200.9 378.4h0M201.1 379.1h0M201.5 381.7h0M202.5 381.2h0M203.0 386.9h0M204.2 386.9h0M204.7 379.2h0M205.7 387.7h0M206.5 387.1h0M207.1 390.2h0M208.5 389.9h0M209.0 391.1h0M209.9 387.3h0M210.5 389.3h0M211.2 386.8h0M212.3 392.1h0M213.0 393.0h0M214.5 388.2h0M214.8 389.4h0M215.3 392.7h0M215.5 394.1h0M217.4 394.2h0M218.1 397.6h0M218.6 396.1h0M220.0 394.7h0M219.7 393.3h0M221.0 389.8h0M221.9 395.9h0M222.6 393.7h0M224.0 392.7h0M224.0 394.6h0M225.5 396.1h0M225.9 393.6h0M227.1 397.2h0M226.9 395.9h0M227.5 399.0h0M229.3 393.8h0M229.4 394.7h0M230.1 397.0h0M231.3 391.3h0M232.3 398.8h0M232.7 395.1h0M234.5 396.6h0M234.5 396.7h0M235.8 393.8h0M236.3 392.3h0M236.5 392.7h0M238.2 397.4h0M239.0 399.8h0M239.5 397.5h0M240.4 398.2h0M240.7 396.4h0M241.8 397.3h0M242.4 396.9h0M243.6 397.8h0M244.5 399.5h0M245.3 399.9h0M246.2 401.0h0M246.9 395.9h0M248.3 400.3h0M248.7 399.3h0M249.1 394.6h0M250.1 396.6h0M250.6 392.1h0M252.0 394.5h0M251.9 398.5h0M253.3 395.4h0M253.9 397.9h0M254.8 398.6h0M255.8 396.3h0M255.7 402.6h0M257.0 394.6h0M258.2 398.5h0M258.5 402.8h0M258.7 400.1h0M260.3 397.6h0M261.2 396.2h0M262.0 393.4h0M262.6 401.2h0M262.6 399.6h0M263.5 394.3h0M265.4 395.3h0M265.7 392.5h0M266.7 395.7h0M267.3 392.1h0M268.4 397.0h0M269.5 397.1h0M270.4 398.7h0M269.7 399.7h0M271.5 392.8h0M272.5 397.6h0M272.6 392.0h0M274.1 393.5h0M275.2 395.3h0M275.3 391.2h0M276.5 390.0h0M276.6 390.9h0M278.5 398.3h0M278.6 392.8h0M279.7 396.8h0M280.0 399.0h0M281.0 396.1h0M281.1 393.0h0M282.5 398.0h0M283.4 389.6h0M285.0 391.0h0M285.1 389.4h0M286.1 392.7h0M286.6 390.9h0M287.3 389.9h0M287.8 394.5h0M289.4 387.8h0M289.5 392.1h0M291.5 390.4h0M291.4 390.2h0M292.4 390.3h0M293.5 393.2h0M294.1 394.6h0M294.6 389.2h0M296.5 385.7h0M295.8 384.5h0M297.2 387.7h0M298.3 385.0h0M298.7 389.2h0M299.1 392.9h0M300.2 391.2h0M300.9 390.3h0M301.7 390.1h0M302.7 388.1h0M303.7 389.2h0M304.0 386.9h0M305.3 392.8h0M305.4 388.2h0M306.9 391.8h0M307.7 386.0h0M308.3 391.1h0M309.2 388.1h0M309.5 388.9h0M310.7 388.4h0M312.0 391.0h0M312.0 388.4h0M313.0 387.9h0M314.5 389.7h0M314.7 385.5h0M315.4 387.8h0M316.1 389.5h0M317.1 383.5h0M318.6 378.9h0M318.6 385.6h0M319.8 388.5h0M320.8 389.4h0M321.2 385.5h0M322.3 384.9h0M322.3 383.6h0M323.7 386.0h0M323.9 387.2h0M325.2 380.2h0M326.1 386.3h0M326.9 382.7h0M327.2 386.0h0M328.4 382.9h0M329.0 380.1h0M329.2 381.6h0M331.1 384.1h0M331.3 385.7h0M332.2 379.1h0M333.4 384.8h0M333.8 378.0h0M334.7 374.7h0M335.5 384.3h0M336.4 378.4h0M337.3 378.8h0M338.3 378.9h0M339.4 378.7h0M339.6 377.0h0M339.9 380.0h0M341.2 376.5h0M342.1 377.7h0M342.5 378.4h0M343.6 380.2h0M344.7 379.2h0M344.8 376.4h0M346.0 375.0h0M346.6 376.9h0M347.5 378.3h0M348.7 381.8h0M349.4 380.1h0M349.5 380.1h0M351.2 374.1h0M352.4 376.0h0M351.5 381.7h0M353.1 375.3h0M353.7 379.9h0M354.8 376.2h0M355.9 374.8h0M356.0 375.7h0M356.8 378.8h0M357.8 374.4h0M358.5 372.0h0M359.6 377.3h0M360.5 376.4h0M361.2 374.6h0M361.9 377.4h0M362.3 378.5h0M363.6 377.2h0M364.1 382.1h0M365.1 375.2h0M365.6 378.7h0M366.6 375.3h0M367.2 379.7h0M368.3 380.1h0M369.1 374.6h0M370.2 378.5h0M370.5 377.0h0M371.2 380.0h0M372.2 379.3h0M373.2 377.7h0M374.0 378.0h0M374.3 377.8h0M375.1 381.1h0M376.5 378.1h0M377.3 380.5h0M378.2 378.0h0M378.7 378.3h0M379.3 384.8h0M379.6 379.8h0M381.3 384.7h0M381.6 378.4h0M382.1 385.0h0M383.9 386.9h0M384.0 388.3h0M385.0 386.5h0M385.8 388.9h0M386.5 379.4h0M387.4 385.0h0M388.4 382.4h0M389.0 380.9h0M389.8 383.5h0M390.8 387.0h0M390.8 383.7h0M392.5 379.0h0M393.1 381.4h0M393.5 382.7h0M395.4 382.2h0M395.8 382.8h0M396.3 382.3h0M396.8 379.9h0M398.1 382.4h0M398.6 378.1h0M399.7 378.2h0M400.3 380.1h0M400.8 379.9h0M402.0 376.7h0M402.3 375.5h0M403.5 379.0h0M403.6 378.1h0M405.2 373.1h0M406.2 376.4h0M406.9 372.4h0M407.1 376.6h0M408.8 374.7h0M409.0 372.1h0M409.3 375.1h0M410.7 375.1h0M411.2 374.0h0M412.1 372.1h0M413.6 368.1h0M414.2 368.9h0M414.4 368.4h0M415.7 365.2h0M416.2 364.6h0M416.8 364.5h0M418.2 362.9h0M419.1 362.3h0M419.3 365.0h0M420.8 359.9h0M421.3 357.8h0M421.8 359.0h0M422.9 356.0h0M423.3 356.7h0M424.3 354.7h0M424.6 364.3h0M426.0 353.1h0M427.0 353.2h0M426.8 360.2h0M428.7 353.6h0M428.7 356.4h0M430.6 356.3h0M430.9 351.3h0M430.9 354.6h0M432.7 353.5h0M433.1 356.0h0M433.6 354.6h0M435.0 349.7h0M435.5 350.9h0M436.5 347.5h0M437.0 349.5h0M437.9 348.6h0M438.8 347.5h0M439.3 349.9h0M440.1 346.0h0M440.8 343.4h0M442.1 345.7h0M442.7 346.5h0M443.4 346.6h0M444.9 345.3h0M445.0 348.1h0M446.1 339.5h0M447.2 343.6h0M447.8 339.7h0M448.0 340.4h0M449.3 338.6h0M449.7 342.5h0M450.5 339.2h0M451.2 333.4h0M452.3 335.9h0M452.6 337.1h0M454.2 335.4h0M454.5 328.9h0M455.5 330.5h0M456.2 326.9h0M456.8 324.8h0M457.9 323.8h0M459.3 322.8h0M459.7 321.0h0M460.2 318.8h0M460.9 316.7h0M461.2 322.9h0M462.3 320.0h0M463.5 316.9h0M464.5 316.5h0M465.2 316.5h0M466.2 319.4h0M466.7 319.5h0M467.7 320.5h0M468.3 312.9h0M469.2 317.4h0M469.8 316.5h0M470.6 314.1h0M472.1 315.6h0M471.9 313.9h0M472.8 317.9h0M474.4 319.8h0M474.4 315.5h0M475.1 318.5h0M476.6 317.8h0M477.6 324.0h0M478.0 314.3h0M479.1 319.7h0M479.7 322.6h0M480.0 320.6h0M481.2 318.7h0M482.1 320.2h0M482.6 324.9h0M483.6 323.9h0M484.2 321.8h0M484.8 318.9h0M486.3 312.3h0M486.9 316.0h0M487.9 316.1h0M488.3 311.4h0M490.1 311.4h0M489.8 310.0h0M490.6 310.7h0M491.0 311.2h0M492.2 308.6h0M492.4 304.6h0M493.8 303.7h0M494.5 304.2h0M495.6 299.9h0M495.6 303.1h0M497.0 303.0h0M498.2 299.3h0M498.2 298.2h0M499.2 301.7h0M499.7 300.6h0M500.6 296.7h0M501.4 296.2h0M502.5 298.6h0M503.3 299.3h0M504.9 297.9h0M504.7 297.1h0M505.9 296.6h0M507.1 300.5h0M508.2 299.1h0M507.4 297.7h0M509.3 296.2h0M509.7 300.7h0M510.7 296.0h0M511.3 291.6h0M512.3 296.4h0M513.1 296.8h0M513.6 298.7h0M515.6 297.4h0M515.1 299.4h0M516.7 303.0h0M517.3 300.6h0M517.9 300.0h0M518.6 300.3h0M519.0 300.3h0M521.0 304.1h0M520.8 303.2h0M521.7 306.8h0M522.7 302.6h0M523.7 305.4h0M524.1 303.1h0M525.1 301.4h0M525.6 308.3h0M527.0 308.9h0M527.3 305.2h0M528.2 305.9h0M529.5 307.0h0M530.4 306.2h0M530.8 312.4h0M531.2 307.3h0M532.1 305.6h0M533.0 308.5h0M534.6 309.5h0M534.0 313.5h0M535.8 311.7h0M536.4 314.2h0M536.9 313.1h0M537.9 317.7h0M539.2 314.8h0M539.0 317.3h0M540.3 318.8h0M541.1 317.5h0M542.1 316.4h0M542.5 325.0h0M543.2 322.9h0M544.5 323.9h0M545.6 319.9h0M546.2 319.4h0M546.7 326.4h0M547.8 329.6h0M548.0 327.8h0M549.0 328.3h0M549.6 329.9h0M551.1 336.2h0M551.8 338.3h0M552.3 332.9h0M552.9 337.2h0M554.2 340.7h0M554.4 341.1h0M555.3 341.5h0M556.6 345.0h0M556.9 343.1h0M558.0 342.8h0M558.7 346.6h0M558.9 345.0h0M561.1 349.1h0M560.9 345.0h0M561.6 352.1h0M562.9 353.2h0M563.7 351.6h0M564.8 351.3h0M565.3 354.4h0M565.3 358.2h0M566.6 358.7h0M567.9 358.3h0M568.1 358.3h0M569.1 363.3h0M570.2 364.6h0M571.0 359.8h0M571.8 364.9h0M572.3 364.6h0M573.0 361.2h0M573.9 367.1h0M574.6 360.7h0M575.2 369.7h0M576.4 370.7h0M576.8 367.8h0M577.6 367.7h0M578.9 370.8h0M579.3 371.9h0M579.9 370.9h0M580.6 368.8h0M581.4 370.4h0M583.2 377.1h0M583.9 372.9h0M584.5 372.0h0M584.9 375.9h0M585.4 376.3h0M586.9 371.2h0M586.7 376.0h0M588.3 377.5h0M588.7 378.9h0M589.9 376.1h0M591.3 378.9h0M591.7 383.1h0M592.1 378.3h0M592.5 378.5h0M594.0 385.5h0M594.9 380.1h0M595.1 377.7h0M595.7 376.6h0M597.1 380.9h0M597.6 379.8h0M598.4 382.1h0M599.7 379.4h0M600.1 377.9h0M600.9 386.5h0M601.9 383.4h0M602.9 385.1h0M603.4 379.4h0M604.6 384.0h0M604.9 384.5h0M605.9 381.8h0M607.3 383.3h0M607.6 381.3h0M608.4 384.7h0M609.2 380.2h0M610.0 381.8h0M610.8 381.6h0M610.7 378.1h0M612.2 376.6h0M612.6 387.0h0M614.1 380.8h0M614.8 376.5h0M615.6 384.4h0M616.4 378.8h0M617.4 380.7h0M617.7 382.6h0M618.6 387.2h0M619.4 387.5h0M620.4 379.1h0M621.1 382.4h0M622.4 385.5h0M623.6 380.7h0M623.3 388.2h0M624.0 383.4h0M625.6 380.2h0M625.8 381.2h0M626.9 384.3h0M627.5 385.2h0M628.0 382.8h0M629.3 388.9h0M629.9 384.1h0M631.1 384.2h0M631.9 384.6h0M632.7 384.5h0M632.8 381.9h0M634.0 388.6h0M635.3 383.0h0M636.4 380.9h0M636.0 385.7h0M636.6 385.3h0M638.0 384.1h0M638.3 382.4h0M639.8 379.6h0M640.6 377.8h0M641.2 375.0h0M641.4 373.6h0M642.9 370.9h0M642.8 368.3h0M644.7 371.0h0M644.8 374.2h0M645.8 367.0h0M646.5 368.3h0M647.4 367.9h0M648.3 371.0h0M648.9 368.9h0M649.8 371.1h0M650.4 370.5h0M651.9 367.7h0M652.0 366.9h0M652.5 365.9h0M653.5 366.5h0M654.6 367.9h0M655.5 367.4h0M656.3 367.0h0M656.7 368.0h0M658.3 369.4h0M658.2 368.0h0M658.9 369.2h0M660.2 366.5h0M660.8 367.3h0" stroke="#0A72C1"/>
<path d="M76.3 385.6h0M76.5 387.0h0M76.9 384.0h0M76.9 387.2h0M77.4 379.2h0M76.8 376.8h0M77.7 365.6h0M77.6 370.4h0M77.9 367.3h0M78.2 367.3h0M78.8 360.9h0M79.0 365.0h0M79.2 356.8h0M80.0 356.8h0M80.4 358.2h0M81.1 354.2h0M81.1 351.5h0M81.4 352.6h0M81.5 346.0h0M82.5 343.8h0M83.2 347.6h0M83.5 344.5h0M84.6 340.9h0M85.7 337.5h0M86.2 338.7h0M86.5 332.0h0M88.2 339.1h0M89.7 334.7h0M89.6 333.8h0M90.9 335.9h0M91.2 333.9h0M92.3 334.8h0M93.0 330.6h0M93.6 327.1h0M94.8 331.4h0M95.9 329.6h0M96.1 326.0h0M96.7 325.8h0M98.0 327.1h0M97.9 326.0h0M99.4 323.0h0M100.3 326.2h0M100.7 320.9h0M101.8 324.3h0M102.6 326.8h0M103.5 319.8h0M104.6 320.0h0M105.3 321.2h0M106.3 317.7h0M106.9 320.4h0M107.2 320.3h0M109.1 318.6h0M108.8 316.5h0M110.3 316.7h0M111.2 313.6h0M111.9 310.6h0M112.2 313.2h0M112.9 316.4h0M113.7 313.7h0M115.3 314.3h0M115.4 309.8h0M115.6 312.1h0M117.4 313.4h0M118.0 315.3h0M119.0 303.4h0M119.2 310.5h0M120.2 310.0h0M122.0 305.3h0M122.7 306.4h0M122.2 306.3h0M123.8 304.2h0M124.8 303.0h0M125.0 307.1h0M125.8 303.0h0M126.7 305.6h0M128.1 307.0h0M128.9 303.1h0M128.5 302.6h0M129.8 299.7h0M130.5 301.6h0M131.5 303.6h0M132.0 303.7h0M133.1 302.3h0M134.3 297.0h0M135.3 297.9h0M135.6 302.1h0M136.6 295.1h0M137.2 301.6h0M137.9 298.3h0M138.7 302.4h0M139.3 295.7h0M139.9 296.6h0M141.0 298.7h0M141.9 293.4h0M142.1 299.3h0M143.8 294.1h0M144.6 291.4h0M145.9 298.9h0M145.3 298.7h0M146.7 296.3h0M147.4 297.0h0M148.3 295.5h0M148.9 299.4h0M150.1 295.1h0M150.5 302.8h0M151.7 303.6h0M151.8 297.5h0M152.3 295.9h0M153.8 298.8h0M154.3 300.4h0M155.4 305.0h0M156.5 299.3h0M157.6 303.6h0M157.5 305.1h0M158.6 302.5h0M160.0 305.3h0M160.1 308.9h0M161.7 309.6h0M161.6 310.3h0M163.1 311.0h0M163.7 309.7h0M164.3 307.5h0M164.8 309.7h0M165.9 317.1h0M165.9 310.9h0M167.2 314.8h0M168.7 313.9h0M168.8 319.7h0M170.0 318.8h0M171.0 316.5h0M171.6 317.5h0M172.0 320.3h0M173.3 317.6h0M173.6 323.1h0M174.8 324.0h0M175.4 321.2h0M176.6 325.8h0M176.1 327.4h0M177.6 327.9h0M179.3 326.5h0M179.2 328.8h0M180.3 330.5h0M180.6 330.8h0M182.2 333.2h0M182.9 335.7h0M183.2 337.1h0M184.4 332.8h0M185.0 337.3h0M186.0 341.2h0M186.8 337.8h0M188.3 339.5h0M188.0 343.8h0M189.0 340.7h0M189.5 346.9h0M190.3 345.5h0M191.3 345.7h0M192.0 347.6h0M193.3 351.0h0M193.8 346.5h0M194.2 350.6h0M194.6 355.1h0M196.3 353.2h0M196.6 352.3h0M197.6 356.7h0M198.6 357.6h0M199.7 352.3h0M200.2 361.3h0M200.9 359.5h0M201.9 357.1h0M203.5 360.9h0M203.7 361.1h0M204.8 366.1h0M205.5 366.6h0M206.1 369.0h0M206.8 367.2h0M207.8 365.9h0M207.4 371.5h0M209.2 368.9h0M209.8 369.5h0M210.4 373.2h0M211.5 375.6h0M212.3 375.9h0M213.3 373.4h0M213.3 374.2h0M214.6 375.3h0M216.3 375.7h0M216.5 376.4h0M217.3 376.0h0M218.2 380.3h0M218.6 377.7h0M220.1 380.0h0M220.8 376.3h0M220.7 387.7h0M222.5 384.1h0M223.1 386.4h0M223.4 386.0h0M223.9 383.0h0M225.1 388.9h0M226.0 384.6h0M227.0 388.6h0M227.8 388.3h0M228.2 392.1h0M229.6 387.0h0M229.5 392.8h0M230.8 391.0h0M231.2 393.8h0M232.4 392.2h0M233.2 390.8h0M234.0 392.9h0M235.0 393.9h0M235.0 391.6h0M236.2 396.6h0M236.9 396.9h0M238.3 396.6h0M239.5 394.7h0M239.6 398.0h0M240.4 397.7h0M241.1 399.0h0M242.0 391.0h0M243.1 395.5h0M243.2 395.5h0M244.2 399.3h0M245.2 396.4h0M245.9 394.4h0M246.5 395.6h0M247.4 393.9h0M248.2 399.3h0M249.3 396.8h0M250.0 396.3h0M250.3 399.1h0M252.3 398.2h0M252.5 403.1h0M252.7 398.3h0M253.8 396.3h0M254.1 396.9h0M255.6 393.2h0M256.2 396.0h0M256.7 398.8h0M258.5 398.4h0M259.1 399.3h0M259.5 398.9h0M260.8 396.5h0M261.0 394.2h0M261.2 395.7h0M263.0 398.7h0M263.6 401.1h0M263.7 401.4h0M265.1 400.0h0M266.4 396.1h0M266.4 399.3h0M267.5 397.0h0M268.3 396.8h0M269.1 397.7h0M270.5 396.2h0M270.9 399.2h0M272.1 396.7h0M272.1 403.5h0M272.9 398.4h0M273.8 397.0h0M275.1 403.2h0M275.4 397.7h0M275.8 401.3h0M276.9 401.0h0M277.1 398.7h0M278.9 400.8h0M278.5 400.6h0M280.3 399.9h0M281.0 398.9h0M282.0 401.3h0M281.6 400.0h0M283.8 399.5h0M284.7 397.8h0M285.8 402.5h0M285.8 406.9h0M287.2 404.0h0M287.1 399.8h0M288.5 402.6h0M289.1 396.7h0M290.3 399.3h0M290.9 398.8h0M291.5 396.0h0M292.5 397.6h0M292.5 400.0h0M293.9 401.1h0M295.0 395.4h0M295.4 398.2h0M296.3 395.3h0M297.1 400.0h0M298.3 400.8h0M299.0 390.6h0M299.4 395.1h0M299.3 399.9h0M301.4 395.7h0M302.0 396.6h0M302.6 398.5h0M304.1 396.9h0M304.1 395.4h0M305.4 396.4h0M305.7 396.9h0M307.0 395.9h0M307.4 394.3h0M307.6 394.2h0M308.9 393.5h0M309.8 393.3h0M310.7 394.1h0M311.3 393.4h0M312.3 394.8h0M313.3 392.5h0M313.6 389.1h0M314.3 393.9h0M315.2 396.7h0M316.2 391.6h0M317.0 390.9h0M317.7 392.2h0M318.2 392.2h0M319.5 389.4h0M320.7 392.3h0M321.5 389.5h0M321.5 388.0h0M322.1 386.0h0M324.1 389.3h0M324.4 388.9h0M325.0 393.9h0M325.3 387.4h0M326.7 387.4h0M327.7 392.6h0M328.6 391.0h0M329.0 391.4h0M329.6 385.8h0M330.6 387.9h0M331.9 385.9h0M332.7 386.2h0M332.7 383.7h0M333.9 384.0h0M334.8 387.4h0M335.4 382.2h0M336.1 387.8h0M336.5 388.1h0M337.9 384.7h0M338.8 387.3h0M339.5 383.4h0M340.6 383.3h0M341.2 387.0h0M342.4 388.2h0M343.1 384.3h0M343.4 384.1h0M344.5 390.7h0M345.3 381.0h0M346.4 378.8h0M347.1 379.3h0M347.1 381.0h0M348.2 378.6h0M349.3 381.4h0M350.4 378.9h0M350.1 382.8h0M351.4 383.3h0M351.5 377.5h0M353.1 385.2h0M353.5 375.4h0M354.5 383.4h0M356.1 376.3h0M356.1 374.9h0M356.8 376.8h0M358.1 381.8h0M359.5 377.9h0M359.8 379.2h0M360.3 383.4h0M361.3 382.4h0M362.0 380.6h0M362.9 378.2h0M363.3 377.4h0M364.3 377.4h0M365.0 376.6h0M366.2 377.7h0M366.7 377.8h0M368.0 377.0h0M368.8 376.2h0M369.6 379.8h0M369.7 379.4h0M371.1 376.0h0M371.4 379.1h0M372.2 377.6h0M373.1 379.2h0M374.2 382.1h0M374.6 385.7h0M375.4 382.9h0M376.3 374.9h0M376.9 377.7h0M378.3 373.7h0M378.5 378.5h0M379.7 379.9h0M380.6 378.8h0M381.0 382.4h0M382.5 380.6h0M382.8 377.8h0M384.2 381.2h0M384.5 376.5h0M385.3 386.7h0M385.8 380.5h0M387.2 380.8h0M387.8 386.3h0M387.9 379.8h0M389.3 382.4h0M389.9 382.0h0M390.7 383.6h0M391.3 382.3h0M392.4 380.6h0M393.3 378.1h0M394.1 383.5h0M394.3 387.3h0M395.1 389.2h0M396.0 387.1h0M397.1 388.2h0M397.8 386.8h0M398.6 379.7h0M399.6 385.5h0M400.4 388.5h0M400.8 380.9h0M402.0 382.7h0M402.7 384.4h0M403.2 387.1h0M404.3 388.8h0M405.2 387.0h0M405.8 382.7h0M406.5 382.1h0M407.7 384.5h0M407.9 380.3h0M408.8 379.5h0M409.6 380.0h0M410.9 380.7h0M411.3 383.0h0M412.3 384.0h0M413.4 384.2h0M413.8 385.3h0M414.8 380.1h0M416.0 378.5h0M416.5 384.2h0M417.1 381.5h0M417.9 382.0h0M418.8 380.1h0M419.7 375.2h0M420.4 378.9h0M421.8 380.1h0M421.7 380.8h0M422.6 375.9h0M423.4 379.9h0M424.7 380.9h0M425.2 377.7h0M426.0 380.8h0M426.7 380.4h0M427.2 377.2h0M428.6 378.8h0M429.2 375.5h0M429.3 375.4h0M430.4 375.2h0M432.0 374.1h0M432.6 375.7h0M432.7 375.8h0M434.2 372.4h0M434.3 374.1h0M435.8 373.4h0M436.4 375.8h0M437.1 375.6h0M438.3 373.9h0M438.8 371.6h0M439.3 373.8h0M440.6 372.3h0M440.6 376.1h0M442.7 367.3h0M442.3 373.9h0M443.7 371.1h0M444.4 376.0h0M445.0 375.0h0M445.9 370.7h0M446.5 371.4h0M448.0 375.6h0M448.4 368.8h0M448.9 371.5h0M449.2 372.2h0M450.8 368.8h0M451.4 370.8h0M452.9 373.3h0M453.4 371.5h0M453.5 372.9h0M454.5 365.1h0M455.8 368.2h0M456.3 369.5h0M457.0 368.4h0M458.3 365.9h0M458.6 366.0h0M459.7 364.3h0M460.3 363.1h0M461.1 365.8h0M461.6 363.7h0M462.2 362.1h0M463.5 365.0h0M463.9 363.2h0M464.8 364.1h0M466.0 364.2h0M466.6 359.4h0M467.3 359.4h0M468.1 362.4h0M469.5 360.8h0M469.6 362.7h0M470.0 367.0h0M471.0 364.4h0M472.6 364.2h0M473.1 363.4h0M473.8 363.8h0M474.5 359.3h0M475.6 360.0h0M476.5 358.7h0M477.2 358.2h0M477.9 365.7h0M478.3 357.1h0M479.0 359.3h0M480.9 358.4h0M481.4 358.7h0M481.7 363.8h0M483.1 353.9h0M483.2 359.1h0M484.5 357.1h0M485.2 358.6h0M485.8 359.3h0M486.4 358.3h0M487.8 356.5h0M488.2 355.5h0M488.3 355.7h0M489.4 349.7h0M491.0 351.9h0M491.6 353.8h0M491.7 350.9h0M493.0 353.7h0M493.9 348.9h0M494.5 351.7h0M495.1 349.7h0M496.1 345.0h0M497.7 351.8h0M497.7 351.3h0M498.3 352.2h0M499.4 348.1h0M500.1 347.4h0M501.2 346.7h0M501.6 347.9h0M502.9 345.1h0M503.9 342.4h0M504.7 342.9h0M505.6 341.3h0M505.8 342.0h0M507.1 344.1h0M507.3 337.8h0M508.6 341.6h0M509.3 336.4h0M510.3 335.8h0M510.8 336.1h0M511.3 327.6h0M512.4 333.7h0M513.2 332.2h0M514.0 332.7h0M514.7 333.1h0M515.5 330.7h0M516.1 328.9h0M517.2 327.9h0M518.4 327.1h0M519.1 327.1h0M519.9 323.5h0M520.2 327.5h0M520.8 325.6h0M522.1 324.6h0M522.8 324.9h0M523.4 324.0h0M524.1 321.3h0M524.6 321.6h0M525.3 321.3h0M526.8 318.0h0M527.5 320.7h0M528.2 316.7h0M529.1 318.9h0M530.2 321.6h0M530.0 316.5h0M531.6 312.9h0M532.4 318.3h0M533.1 315.2h0M534.3 309.6h0M533.9 312.3h0M536.0 303.7h0M536.2 304.9h0M537.2 305.4h0M538.3 302.5h0M539.4 298.5h0M539.6 308.2h0M540.3 302.3h0M540.9 308.2h0M542.2 298.7h0M542.1 299.5h0M543.7 293.5h0M544.1 299.5h0M544.3 297.3h0M545.4 294.1h0M546.8 299.8h0M547.9 295.1h0M548.5 292.0h0M548.6 297.3h0M549.8 293.1h0M550.1 294.7h0M552.3 290.0h0M551.9 297.5h0M552.5 292.9h0M553.9 297.0h0M554.7 298.4h0M555.5 293.4h0M556.5 294.2h0M556.6 290.8h0M557.8 293.7h0M558.3 290.8h0M559.2 293.2h0M560.2 293.6h0M561.2 289.5h0M561.8 288.4h0M562.7 293.2h0M563.2 286.5h0M564.5 289.9h0M565.1 291.5h0M566.0 292.4h0M566.5 284.5h0M567.3 289.0h0M568.2 290.6h0M569.0 292.7h0M569.7 289.5h0M570.6 294.8h0M571.2 287.2h0M572.2 291.9h0M573.1 289.8h0M573.4 285.5h0M574.6 290.4h0M576.1 292.3h0M576.4 294.2h0M576.8 289.1h0M577.8 296.3h0M579.0 291.7h0M579.1 295.9h0M580.7 291.4h0M581.6 292.7h0M582.2 294.7h0M582.6 294.2h0M583.7 297.7h0M584.6 295.9h0M584.8 302.2h0M586.5 296.8h0M586.3 301.3h0M587.5 298.0h0M588.6 299.1h0M589.1 303.4h0M589.3 300.4h0M590.4 299.4h0M591.4 300.2h0M591.5 301.6h0M593.9 299.3h0M594.2 302.4h0M594.8 300.2h0M595.7 302.6h0M596.8 304.6h0M596.9 295.8h0M598.4 304.9h0M598.8 302.8h0M600.4 308.3h0M600.3 304.8h0M601.3 309.9h0M602.1 309.6h0M602.8 309.0h0M603.1 309.3h0M604.3 309.6h0M605.0 311.4h0M605.7 310.9h0M606.2 317.9h0M607.2 309.7h0M608.1 312.3h0M608.7 307.8h0M610.5 317.0h0M610.6 316.4h0M611.1 311.5h0M612.4 317.5h0M612.9 316.6h0M612.8 316.8h0M615.1 318.0h0M615.6 319.6h0M615.6 315.4h0M616.7 319.7h0M617.7 314.9h0M619.0 319.6h0M619.8 325.5h0M619.7 317.7h0M621.5 324.9h0M622.0 322.7h0M622.9 323.9h0M623.1 324.6h0M624.6 322.2h0M624.8 322.7h0M625.7 326.0h0M627.0 325.5h0M627.4 321.7h0M628.2 324.3h0M628.9 328.2h0M630.0 336.7h0M630.4 327.1h0M631.1 328.1h0M632.2 331.4h0M632.4 331.4h0M634.1 328.1h0M634.5 330.4h0M635.7 330.3h0M636.2 331.5h0M636.7 333.1h0M638.1 333.6h0M638.3 334.6h0M639.5 336.5h0M640.2 338.9h0M641.5 339.9h0M642.0 341.9h0M642.7 339.4h0M643.0 340.7h0M644.7 339.1h0M645.4 339.1h0M646.0 347.5h0M646.7 340.9h0M647.6 344.2h0M648.6 344.0h0M648.5 344.9h0M650.1 349.4h0M650.8 347.7h0M651.7 347.9h0M652.1 349.7h0M653.5 348.7h0M654.1 349.2h0M654.4 352.0h0M655.0 350.3h0M655.9 352.0h0M656.8 360.6h0M658.1 356.5h0M658.2 352.0h0M659.7 357.8h0M660.7 359.6h0M660.6 360.1h0" stroke="#C00000"/>
<path d="M75.8 384.5h0M76.7 385.0h0M76.9 382.7h0M76.8 380.0h0M76.9 376.7h0M77.8 375.1h0M76.8 376.3h0M78.1 372.1h0M77.9 366.6h0M78.1 364.3h0M78.9 361.9h0M79.2 356.7h0M80.5 361.6h0M79.9 354.2h0M80.7 355.4h0M81.1 352.8h0M81.6 353.2h0M81.4 351.3h0M82.8 347.4h0M83.0 343.7h0M84.2 344.1h0M85.3 342.6h0M85.4 342.3h0M86.7 340.2h0M87.5 335.0h0M89.2 337.1h0M89.4 333.2h0M89.8 335.8h0M90.9 336.1h0M91.9 328.0h0M91.8 332.1h0M93.3 327.3h0M93.8 325.2h0M95.3 324.7h0M95.0 326.0h0M96.3 323.5h0M97.0 321.4h0M97.2 321.7h0M98.5 318.3h0M99.6 321.3h0M99.5 316.9h0M101.3 318.7h0M101.6 316.0h0M102.8 316.6h0M103.3 313.0h0M104.1 315.4h0M105.5 310.8h0M105.8 311.6h0M106.4 310.0h0M107.8 311.5h0M108.1 307.5h0M109.1 304.9h0M110.0 308.1h0M110.2 306.7h0M111.3 306.1h0M112.0 309.4h0M112.8 307.4h0M114.0 308.6h0M114.7 304.5h0M115.5 299.4h0M117.1 302.9h0M117.0 300.1h0M117.8 306.2h0M118.4 302.9h0M119.9 303.6h0M120.2 296.7h0M121.2 301.8h0M121.8 299.0h0M123.3 295.9h0M123.3 297.8h0M123.7 297.3h0M124.8 301.5h0M125.3 294.8h0M126.8 293.8h0M126.8 295.4h0M127.9 293.9h0M129.0 296.6h0M129.7 294.2h0M130.9 293.9h0M131.7 292.3h0M132.5 296.3h0M132.6 299.9h0M133.8 291.6h0M134.6 293.0h0M135.1 291.7h0M136.1 294.6h0M136.5 292.5h0M137.8 289.0h0M138.7 290.0h0M139.5 290.9h0M140.7 289.2h0M141.7 283.5h0M142.5 292.6h0M143.2 290.1h0M143.6 287.1h0M144.8 286.6h0M144.8 289.3h0M146.0 290.1h0M146.3 288.5h0M147.7 292.2h0M148.6 290.5h0M149.0 288.3h0M149.7 289.6h0M150.9 288.8h0M152.2 287.9h0M152.6 290.0h0M153.0 289.8h0M154.4 290.3h0M154.9 291.6h0M155.8 293.1h0M156.9 290.3h0M156.8 296.4h0M158.3 293.0h0M158.6 293.8h0M159.9 291.8h0M160.8 294.0h0M161.0 293.7h0M161.2 295.9h0M162.2 294.4h0M163.2 296.8h0M164.5 296.9h0M165.2 298.4h0M166.5 299.4h0M167.2 298.6h0M167.6 297.9h0M168.5 298.1h0M169.3 299.3h0M169.8 304.4h0M170.7 304.1h0M171.4 298.7h0M172.8 303.5h0M172.9 307.0h0M173.5 303.8h0M175.1 304.8h0M175.9 306.5h0M176.2 308.2h0M176.9 311.4h0M178.3 309.7h0M178.9 311.6h0M180.1 307.7h0M180.7 314.9h0M181.0 314.0h0M181.8 318.0h0M182.3 317.6h0M183.9 318.7h0M184.1 317.4h0M184.4 317.1h0M186.3 318.3h0M186.1 321.0h0M187.0 323.7h0M188.0 326.1h0M189.1 321.8h0M189.6 324.5h0M190.4 330.0h0M191.1 328.9h0M192.1 330.6h0M192.6 326.6h0M194.1 334.8h0M194.2 331.8h0M195.3 331.4h0M196.6 334.8h0M196.6 335.1h0M198.4 335.0h0M198.5 336.0h0M199.6 337.8h0M200.6 338.3h0M200.6 342.4h0M200.8 340.1h0M202.8 343.8h0M203.3 343.4h0M204.5 354.4h0M204.8 346.2h0M205.7 349.2h0M206.7 350.1h0M208.1 349.0h0M208.2 351.4h0M209.8 350.6h0M210.5 355.2h0M209.7 351.1h0M211.2 355.4h0M212.8 356.2h0M213.2 363.0h0M214.0 364.8h0M214.4 365.3h0M215.3 357.3h0M216.0 363.1h0M217.1 367.2h0M218.1 368.1h0M218.4 372.5h0M219.9 370.0h0M220.1 371.4h0M221.0 371.6h0M221.9 373.3h0M222.9 374.5h0M223.7 377.9h0M224.4 379.4h0M224.7 385.3h0M225.7 382.0h0M226.7 380.2h0M228.1 384.7h0M228.2 384.0h0M229.3 387.0h0M230.2 383.4h0M230.6 381.6h0M231.6 387.0h0M232.2 387.0h0M233.1 384.8h0M233.5 389.0h0M235.6 388.1h0M235.1 384.8h0M236.4 389.1h0M237.6 382.2h0M238.5 388.5h0M238.7 389.3h0M239.4 387.9h0M240.7 384.6h0M241.1 390.2h0M241.3 388.7h0M243.2 390.1h0M243.7 391.0h0M244.4 390.3h0M244.8 389.2h0M246.5 387.0h0M246.6 387.2h0M247.3 388.5h0M247.9 391.2h0M248.8 392.0h0M250.5 385.0h0M250.6 386.2h0M251.5 392.2h0M252.4 394.3h0M253.2 387.5h0M254.4 389.5h0M254.7 392.7h0M255.2 392.3h0M256.8 388.2h0M256.5 391.3h0M257.8 389.4h0M257.9 394.7h0M259.6 389.4h0M260.5 392.5h0M261.2 389.5h0M261.8 393.8h0M262.1 390.2h0M263.8 397.5h0M264.5 392.5h0M264.7 391.7h0M265.8 393.7h0M266.6 398.5h0M268.0 387.3h0M267.9 392.5h0M269.4 393.3h0M268.9 388.2h0M271.2 393.3h0M272.4 393.6h0M272.5 395.1h0M272.9 389.9h0M273.5 391.6h0M274.9 393.2h0M276.0 392.4h0M276.7 390.2h0M276.8 392.5h0M278.3 393.9h0M278.6 389.5h0M279.4 391.4h0M280.3 390.0h0M281.2 389.7h0M282.0 388.9h0M282.2 389.5h0M284.2 388.3h0M284.6 393.4h0M284.9 390.7h0M285.1 391.4h0M287.2 390.5h0M286.8 388.6h0M288.0 390.3h0M289.2 389.1h0M289.8 388.1h0M290.9 390.6h0M291.6 389.0h0M292.5 389.6h0M293.2 390.0h0M293.7 387.9h0M294.0 387.3h0M295.7 398.5h0M295.7 388.8h0M297.1 399.4h0M297.8 388.1h0M298.8 395.9h0M298.5 388.1h0M300.7 388.2h0M301.1 389.5h0M302.2 387.6h0M302.8 391.6h0M303.7 392.1h0M304.4 386.8h0M305.0 388.8h0M306.1 390.4h0M306.8 393.4h0M307.5 394.6h0M308.6 386.7h0M308.9 392.8h0M309.7 392.3h0M310.5 388.7h0M311.9 384.7h0M312.3 386.9h0M313.2 391.6h0M314.1 383.7h0M315.0 385.3h0M315.6 388.7h0M316.2 387.9h0M317.2 383.0h0M317.8 381.6h0M319.1 385.0h0M319.8 381.7h0M320.6 381.4h0M321.2 384.2h0M321.7 384.9h0M322.7 382.1h0M323.2 381.0h0M324.8 384.4h0M325.0 385.5h0M325.6 380.8h0M326.8 387.1h0M327.6 383.2h0M328.9 378.7h0M330.2 379.3h0M329.9 378.6h0M330.3 381.1h0M332.4 379.2h0M332.1 381.9h0M332.7 380.4h0M334.2 375.5h0M334.6 379.8h0M335.3 380.0h0M335.7 379.0h0M336.9 377.3h0M338.3 384.4h0M339.0 377.3h0M340.0 380.4h0M340.0 380.5h0M340.9 380.2h0M342.2 381.5h0M342.3 378.3h0M343.5 375.6h0M344.4 380.2h0M344.6 377.1h0M345.5 375.3h0M346.3 381.7h0M347.3 377.5h0M348.6 380.9h0M349.6 373.4h0M350.2 374.2h0M350.5 377.5h0M351.3 383.3h0M352.2 381.4h0M353.0 378.4h0M354.1 379.7h0M354.9 374.4h0M355.7 379.4h0M356.5 378.5h0M357.2 375.5h0M358.3 375.7h0M359.2 381.1h0M359.5 377.9h0M360.6 377.8h0M360.7 379.2h0M361.5 377.4h0M363.3 380.4h0M363.3 378.2h0M364.1 378.2h0M364.6 379.8h0M365.9 376.6h0M366.5 384.4h0M367.3 376.7h0M368.1 376.6h0M369.6 379.3h0M370.0 378.5h0M370.3 371.6h0M372.0 379.1h0M372.4 378.0h0M373.2 377.2h0M373.8 371.7h0M374.9 377.1h0M375.8 377.7h0M376.2 378.4h0M377.2 375.8h0M377.8 375.8h0M378.6 375.7h0M379.8 383.8h0M380.3 379.4h0M380.4 368.8h0M381.7 376.3h0M382.4 373.4h0M383.2 375.4h0M384.4 375.9h0M384.7 375.8h0M386.4 374.5h0M386.7 379.1h0M387.2 375.3h0M389.3 379.7h0M388.9 377.1h0M389.9 377.1h0M390.9 376.0h0M390.7 374.4h0M392.4 373.5h0M393.0 380.4h0M394.0 375.2h0M394.7 379.4h0M394.9 373.8h0M396.1 375.8h0M397.1 375.4h0M397.9 377.1h0M398.3 375.4h0M399.1 377.7h0M400.4 378.6h0M400.8 375.8h0M401.1 377.1h0M402.1 378.0h0M403.9 378.3h0M404.5 377.7h0M405.2 379.5h0M406.3 382.1h0M406.6 379.1h0M407.8 378.1h0M408.4 373.8h0M409.5 374.6h0M409.7 374.4h0M410.9 373.7h0M411.7 377.0h0M412.3 374.3h0M413.3 377.8h0M413.7 371.5h0M414.5 371.4h0M415.4 372.6h0M415.5 375.9h0M416.8 370.8h0M417.2 366.7h0M418.3 371.7h0M419.8 366.4h0M420.4 374.1h0M421.0 372.3h0M422.0 367.5h0M423.0 367.9h0M423.6 368.1h0M424.2 369.1h0M425.6 364.3h0M425.5 368.3h0M427.0 367.2h0M427.4 368.6h0M428.9 364.8h0M428.5 366.0h0M430.2 363.2h0M431.1 368.2h0M431.8 363.4h0M431.8 366.6h0M433.2 366.3h0M433.4 357.0h0M435.1 366.1h0M435.4 363.2h0M436.5 364.6h0M437.0 361.2h0M437.6 364.5h0M438.7 353.3h0M439.6 359.8h0M439.9 359.7h0M440.7 359.5h0M441.7 361.6h0M442.3 355.7h0M443.3 356.5h0M444.6 359.1h0M444.5 357.2h0M445.9 359.0h0M446.1 358.5h0M447.6 361.0h0M448.7 358.1h0M448.6 357.3h0M450.1 355.8h0M451.1 355.5h0M451.1 359.7h0M452.3 358.3h0M453.0 357.5h0M453.7 361.9h0M454.9 356.9h0M455.7 359.2h0M456.1 357.6h0M457.2 355.8h0M457.6 356.6h0M458.6 356.1h0M458.8 357.3h0M460.5 357.2h0M461.7 359.1h0M461.8 355.3h0M462.9 355.9h0M462.9 356.9h0M464.2 355.9h0M465.3 356.8h0M466.6 354.4h0M466.7 356.8h0M467.3 354.6h0M468.9 352.2h0M469.2 351.4h0M470.0 350.9h0M470.3 358.2h0M472.0 355.7h0M471.4 357.8h0M473.2 352.6h0M473.8 352.1h0M474.7 355.0h0M475.5 357.1h0M476.1 349.8h0M476.7 352.1h0M477.8 354.0h0M478.7 358.3h0M479.5 352.3h0M480.2 352.7h0M481.0 356.1h0M481.5 356.2h0M483.3 358.0h0M484.1 354.2h0M483.8 358.4h0M485.1 353.9h0M485.8 350.8h0M486.9 349.4h0M487.0 353.8h0M488.2 350.1h0M489.3 355.2h0M489.8 351.1h0M490.9 353.3h0M491.9 352.2h0M492.1 351.4h0M493.1 345.5h0M494.3 350.4h0M495.2 348.4h0M495.8 347.8h0M496.4 349.6h0M497.1 348.2h0M497.9 349.0h0M498.9 341.4h0M500.1 345.7h0M500.1 342.4h0M501.8 343.4h0M502.1 343.9h0M502.5 346.0h0M504.2 339.3h0M504.7 336.6h0M505.0 340.1h0M505.9 340.6h0M506.8 339.3h0M507.5 338.4h0M508.1 341.7h0M509.1 339.3h0M509.9 335.2h0M510.6 331.9h0M512.2 335.4h0M512.3 332.7h0M513.5 332.6h0M513.7 331.7h0M515.2 333.4h0M515.4 331.0h0M516.7 333.2h0M517.0 334.7h0M518.2 330.3h0M519.1 335.5h0M519.4 329.8h0M520.7 332.2h0M521.0 332.3h0M521.8 335.1h0M522.3 334.4h0M523.9 335.7h0M524.6 333.9h0M525.0 333.0h0M525.6 337.3h0M526.7 331.0h0M527.8 337.0h0M528.4 332.6h0M528.7 334.8h0M529.8 331.6h0M530.9 330.0h0M531.8 327.1h0M532.1 329.2h0M533.0 334.1h0M533.5 335.1h0M534.5 330.3h0M535.8 329.2h0M536.8 330.0h0M537.1 327.6h0M538.3 329.3h0M538.5 326.6h0M539.3 328.1h0M540.1 329.6h0M541.1 325.6h0M542.1 329.7h0M542.0 326.4h0M543.9 325.1h0M544.6 320.3h0M544.8 325.5h0M545.9 322.4h0M546.9 322.2h0M547.7 319.0h0M548.2 321.9h0M548.9 313.8h0M549.8 317.9h0M551.3 314.6h0M551.3 314.3h0M552.4 314.5h0M553.3 312.6h0M554.1 310.9h0M554.4 308.7h0M556.1 311.4h0M556.6 308.4h0M557.1 307.5h0M557.8 308.6h0M558.6 303.5h0M559.0 308.4h0M560.0 302.1h0M561.2 308.0h0M562.1 302.5h0M562.9 300.9h0M563.4 302.5h0M564.3 303.8h0M565.3 306.0h0M566.2 300.5h0M566.8 298.7h0M567.3 299.5h0M568.7 298.2h0M568.6 296.9h0M569.5 298.4h0M570.6 295.5h0M571.2 296.8h0M572.4 298.7h0M573.6 296.1h0M574.1 296.4h0M574.3 294.2h0M576.3 294.9h0M576.9 296.8h0M577.7 293.9h0M578.2 293.2h0M578.3 290.7h0M579.7 289.2h0M580.4 290.6h0M581.2 289.1h0M582.2 291.5h0M582.2 288.4h0M583.5 287.7h0M584.4 292.6h0M584.9 294.6h0M586.4 292.0h0M586.9 292.3h0M587.4 294.2h0M588.1 285.2h0M589.1 292.1h0M590.2 288.5h0M591.2 289.3h0M591.7 293.0h0M592.4 294.1h0M592.9 296.4h0M594.1 290.8h0M595.6 292.1h0M595.0 295.8h0M596.8 291.5h0M596.8 296.0h0M597.9 291.6h0M598.6 294.4h0M599.8 298.4h0M600.1 298.8h0M600.6 297.1h0M601.9 296.8h0M602.6 294.4h0M603.6 299.1h0M603.6 296.8h0M605.0 294.5h0M605.5 298.6h0M606.9 299.3h0M606.8 294.5h0M608.1 297.4h0M609.7 297.9h0M610.0 301.6h0M611.3 300.6h0M611.6 304.8h0M612.2 296.5h0M612.9 300.5h0M614.4 302.5h0M615.1 302.5h0M615.5 301.4h0M615.9 304.4h0M617.2 305.1h0M617.7 303.2h0M618.8 306.1h0M620.2 303.0h0M620.6 307.6h0M621.0 306.3h0M621.9 310.0h0M623.6 307.6h0M623.4 309.6h0M624.5 307.4h0M625.4 310.4h0M625.8 310.9h0M626.0 306.4h0M627.4 310.4h0M627.8 314.1h0M629.0 311.6h0M629.9 313.6h0M630.5 314.2h0M631.2 309.6h0M632.5 314.2h0M633.4 309.9h0M634.0 313.7h0M634.7 315.1h0M635.4 315.4h0M636.7 314.0h0M636.5 320.0h0M638.6 318.5h0M638.4 318.8h0M639.2 325.8h0M640.5 326.2h0M641.2 325.9h0M641.7 324.3h0M642.9 333.8h0M643.4 332.4h0M644.1 330.9h0M645.7 332.1h0M646.1 332.4h0M647.4 332.3h0M647.7 336.0h0M648.4 338.8h0M649.6 341.2h0M650.3 341.2h0M650.4 344.6h0M652.0 343.6h0M652.6 342.9h0M652.6 346.8h0M653.7 349.9h0M654.9 346.3h0M655.3 347.6h0M656.0 347.6h0M657.7 349.2h0M658.5 351.2h0M658.9 350.8h0M659.4 353.3h0M659.8 360.2h0M661.3 356.4h0M75.8 434.0h0" stroke="#7030A0"/>
</g>
</svg>
</body></html>
